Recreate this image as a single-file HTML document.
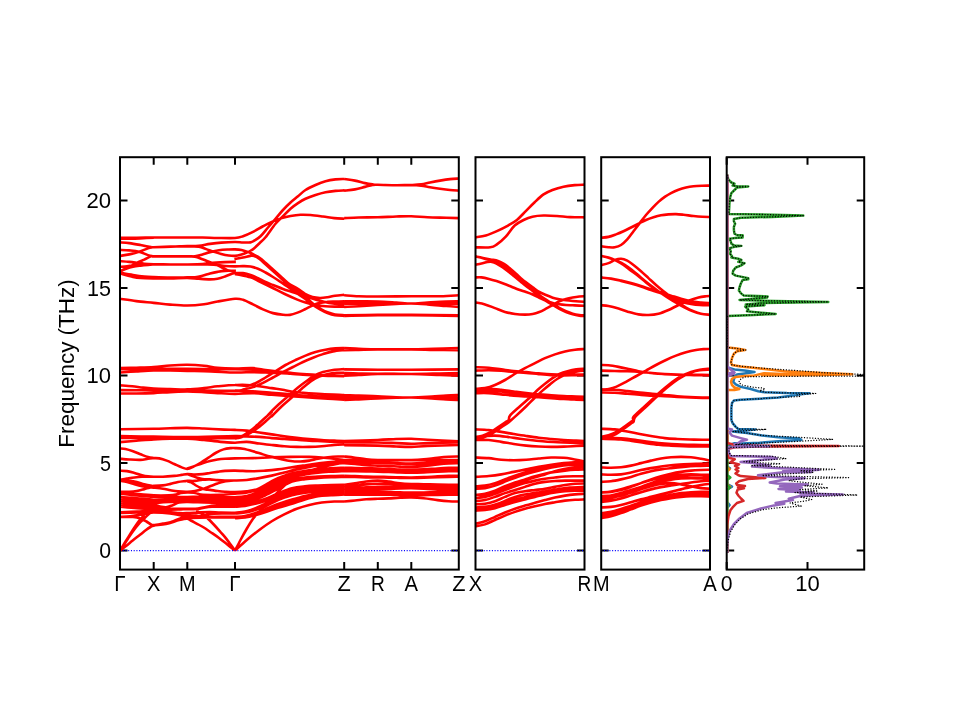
<!DOCTYPE html>
<html lang="en"><head><meta charset="utf-8"><title>Phonon band structure and DOS</title>
<style>
html,body{margin:0;padding:0;background:#fff;}
body{width:960px;height:720px;overflow:hidden;font-family:"Liberation Sans",sans-serif;}
svg{display:block;}
text{font-family:"Liberation Sans",sans-serif;font-size:21.2px;fill:#000;}
.b{fill:none;stroke:#ff0000;stroke-width:2.60;stroke-linecap:butt;stroke-linejoin:round;}
.sp{fill:none;stroke:#000;stroke-width:2.00;stroke-linecap:square;}
.tk{fill:none;stroke:#000;stroke-width:2.00;}
.z{fill:none;stroke:#0000ff;stroke-width:1.2;stroke-dasharray:1.05 1.68;}
.d{fill:none;stroke-width:2.5;stroke-linejoin:round;stroke-linecap:butt;}
.tot{fill:none;stroke:#000;stroke-width:1.25;stroke-dasharray:1.15 1.6;stroke-linejoin:round;}
</style></head><body>
<svg width="960" height="720" viewBox="0 0 960 720">
<rect x="0" y="0" width="960" height="720" fill="#ffffff"/>
<defs>
<clipPath id="c1"><rect x="120.00" y="157.20" width="338.80" height="412.40"/></clipPath>
<clipPath id="c2"><rect x="475.50" y="157.20" width="109.00" height="412.40"/></clipPath>
<clipPath id="c3"><rect x="601.20" y="157.20" width="108.80" height="412.40"/></clipPath>
<clipPath id="c4"><rect x="726.70" y="157.20" width="137.50" height="412.40"/></clipPath>
</defs>
<path class="tk" d="M120.00 550.60h7.50M458.80 550.60h-7.50M120.00 463.10h7.50M458.80 463.10h-7.50M120.00 375.60h7.50M458.80 375.60h-7.50M120.00 288.10h7.50M458.80 288.10h-7.50M120.00 200.60h7.50M458.80 200.60h-7.50M153.70 569.60v-7.50M153.70 157.20v7.50M187.30 569.60v-7.50M187.30 157.20v7.50M235.00 569.60v-7.50M235.00 157.20v7.50M344.20 569.60v-7.50M344.20 157.20v7.50M377.80 569.60v-7.50M377.80 157.20v7.50M411.30 569.60v-7.50M411.30 157.20v7.50"/>
<path class="tk" d="M475.50 550.60h7.50M584.50 550.60h-7.50M475.50 463.10h7.50M584.50 463.10h-7.50M475.50 375.60h7.50M584.50 375.60h-7.50M475.50 288.10h7.50M584.50 288.10h-7.50M475.50 200.60h7.50M584.50 200.60h-7.50"/>
<path class="tk" d="M601.20 550.60h7.50M710.00 550.60h-7.50M601.20 463.10h7.50M710.00 463.10h-7.50M601.20 375.60h7.50M710.00 375.60h-7.50M601.20 288.10h7.50M710.00 288.10h-7.50M601.20 200.60h7.50M710.00 200.60h-7.50"/>
<path class="tk" d="M726.70 550.60h7.50M864.20 550.60h-7.50M726.70 463.10h7.50M864.20 463.10h-7.50M726.70 375.60h7.50M864.20 375.60h-7.50M726.70 288.10h7.50M864.20 288.10h-7.50M726.70 200.60h7.50M864.20 200.60h-7.50M726.70 569.60v-7.50M726.70 157.20v7.50M807.50 569.60v-7.50M807.50 157.20v7.50"/>
<g clip-path="url(#c1)">
<path class="b" d="M120.03 237.88C122.81 237.85 131.14 237.79 136.75 237.73C142.36 237.66 148.08 237.54 153.70 237.50C159.33 237.46 164.90 237.50 170.50 237.50C176.10 237.50 181.97 237.50 187.30 237.50C192.63 237.50 197.47 237.43 202.50 237.50C207.53 237.58 212.09 237.86 217.50 237.95C222.91 238.04 230.73 238.31 234.98 238.03C239.23 237.74 240.00 237.28 243.00 236.25C246.00 235.22 249.67 233.54 253.00 231.88C256.33 230.21 259.88 227.92 263.00 226.25C266.12 224.58 268.62 223.23 271.75 221.88C274.88 220.52 278.62 219.10 281.75 218.12C284.88 217.15 287.38 216.56 290.50 216.00C293.62 215.44 297.17 214.92 300.50 214.75C303.83 214.58 306.75 214.71 310.50 215.00C314.25 215.29 319.04 215.98 323.00 216.50C326.96 217.02 330.71 217.75 334.25 218.12C337.79 218.50 342.58 218.65 344.25 218.75M120.03 238.85C122.19 238.81 128.59 238.78 133.00 238.63C137.41 238.48 143.05 238.13 146.50 237.95C149.95 237.78 152.50 237.64 153.70 237.58M120.03 242.38C121.56 242.50 125.84 242.69 129.25 243.13C132.66 243.56 136.88 244.34 140.50 245.00C144.13 245.66 148.80 246.73 151.00 247.10C153.20 247.48 150.45 247.33 153.70 247.25C156.95 247.18 164.90 246.84 170.50 246.65C176.10 246.46 182.59 246.28 187.30 246.13C192.01 245.98 194.97 246.13 198.75 245.75C202.53 245.38 206.25 244.40 210.00 243.88C213.75 243.35 217.09 242.91 221.25 242.60C225.41 242.29 231.35 242.02 234.98 242.00C238.60 241.98 240.41 242.44 243.00 242.50C245.59 242.56 248.63 242.66 250.50 242.35C252.38 242.04 252.58 241.64 254.25 240.63C255.92 239.61 258.21 238.44 260.50 236.25C262.79 234.06 265.50 230.42 268.00 227.50C270.50 224.58 273.00 221.67 275.50 218.75C278.00 215.83 280.50 212.71 283.00 210.00C285.50 207.29 288.00 204.79 290.50 202.50C293.00 200.21 295.50 198.33 298.00 196.25C300.50 194.17 302.58 191.88 305.50 190.00C308.42 188.12 312.17 186.46 315.50 185.00C318.83 183.54 322.17 182.19 325.50 181.25C328.83 180.31 332.38 179.75 335.50 179.38C338.62 179.00 342.79 179.06 344.25 179.00M120.03 255.88C121.56 255.63 126.09 255.06 129.25 254.38C132.41 253.69 135.88 252.75 139.00 251.75C142.13 250.75 145.88 249.10 148.00 248.38C150.13 247.65 150.80 247.59 151.75 247.40C152.70 247.21 150.58 247.38 153.70 247.25C156.83 247.13 164.90 246.84 170.50 246.65C176.10 246.46 182.59 246.13 187.30 246.13C192.01 246.13 195.59 246.15 198.75 246.65C201.91 247.15 203.75 248.28 206.25 249.13C208.75 249.98 211.25 250.94 213.75 251.75C216.25 252.56 218.75 253.38 221.25 254.00C223.75 254.63 226.46 255.19 228.75 255.50C231.04 255.81 232.85 256.04 234.98 255.88C237.10 255.71 239.54 255.04 241.50 254.50C243.46 253.96 245.25 253.25 246.75 252.63C248.25 252.00 249.25 251.50 250.50 250.75C251.75 250.00 252.75 249.38 254.25 248.13C255.75 246.88 257.63 245.06 259.50 243.25C261.38 241.44 262.83 240.50 265.50 237.25C268.17 234.00 272.58 227.25 275.50 223.75C278.42 220.25 280.50 218.75 283.00 216.25C285.50 213.75 288.00 210.94 290.50 208.75C293.00 206.56 295.50 204.79 298.00 203.12C300.50 201.46 302.58 200.10 305.50 198.75C308.42 197.40 312.17 196.08 315.50 195.00C318.83 193.92 322.17 192.94 325.50 192.25C328.83 191.56 332.38 191.19 335.50 190.88C338.62 190.56 342.79 190.46 344.25 190.38M120.03 249.88C121.56 249.96 126.09 250.09 129.25 250.40C132.41 250.71 135.88 250.96 139.00 251.75C142.13 252.54 145.75 254.38 148.00 255.13C150.25 255.88 151.55 256.05 152.50 256.25C153.45 256.45 150.70 256.30 153.70 256.33C156.70 256.35 164.90 256.39 170.50 256.40C176.10 256.41 183.22 256.43 187.30 256.40C191.38 256.38 192.47 256.59 195.00 256.25C197.53 255.91 200.00 255.06 202.50 254.38C205.00 253.69 207.25 252.81 210.00 252.13C212.75 251.44 215.88 250.69 219.00 250.25C222.13 249.81 226.09 249.65 228.75 249.50C231.41 249.35 232.85 249.27 234.98 249.35C237.10 249.43 239.54 249.62 241.50 250.00C243.46 250.38 245.25 251.15 246.75 251.65C248.25 252.15 249.25 252.46 250.50 253.00C251.75 253.54 252.75 254.06 254.25 254.88C255.75 255.69 257.63 256.56 259.50 257.88C261.38 259.19 263.25 260.81 265.50 262.75C267.75 264.69 270.50 267.25 273.00 269.50C275.50 271.75 278.00 274.00 280.50 276.25C283.00 278.50 285.17 280.94 288.00 283.00C290.83 285.06 294.67 286.81 297.50 288.63C300.33 290.44 302.50 292.46 305.00 293.88C307.50 295.29 310.00 296.41 312.50 297.10C315.00 297.79 317.50 297.98 320.00 298.00C322.50 298.03 325.00 297.63 327.50 297.25C330.00 296.88 332.21 296.15 335.00 295.75C337.79 295.35 342.69 295.00 344.23 294.85M120.03 271.25C121.31 270.63 124.96 268.88 127.75 267.50C130.54 266.13 134.00 264.31 136.75 263.00C139.50 261.69 141.88 260.73 144.25 259.63C146.63 258.53 149.43 256.96 151.00 256.40C152.58 255.84 150.45 256.25 153.70 256.25C156.95 256.25 164.90 256.38 170.50 256.40C176.10 256.43 183.22 256.36 187.30 256.40C191.38 256.44 192.47 256.15 195.00 256.63C197.53 257.10 200.00 258.31 202.50 259.25C205.00 260.19 207.50 261.25 210.00 262.25C212.50 263.25 215.00 264.13 217.50 265.25C220.00 266.38 223.13 268.13 225.00 269.00C226.88 269.88 226.94 270.15 228.75 270.50C230.56 270.85 234.69 271.00 235.88 271.10M120.03 261.13C121.56 261.25 126.46 261.60 129.25 261.88C132.04 262.15 134.25 262.46 136.75 262.78C139.25 263.09 141.43 263.51 144.25 263.75C147.08 263.99 149.33 264.08 153.70 264.20C158.08 264.33 164.90 264.45 170.50 264.50C176.10 264.55 181.97 264.50 187.30 264.50C192.63 264.50 198.09 264.48 202.50 264.50C206.91 264.53 210.00 264.40 213.75 264.65C217.50 264.90 221.46 265.71 225.00 266.00C228.54 266.29 231.98 266.35 234.98 266.38C237.98 266.40 240.41 266.10 243.00 266.13C245.59 266.15 248.00 266.06 250.50 266.50C253.00 266.94 255.50 267.75 258.00 268.75C260.50 269.75 263.00 271.13 265.50 272.50C268.00 273.88 270.50 275.44 273.00 277.00C275.50 278.56 278.25 280.38 280.50 281.88C282.75 283.38 284.42 284.63 286.50 286.00C288.58 287.38 290.92 288.69 293.00 290.13C295.08 291.56 297.00 293.19 299.00 294.63C301.00 296.06 302.75 297.09 305.00 298.75C307.25 300.41 310.00 302.85 312.50 304.60C315.00 306.35 317.50 307.85 320.00 309.25C322.50 310.65 325.00 312.00 327.50 313.00C330.00 314.00 332.21 314.78 335.00 315.25C337.79 315.73 342.69 315.75 344.23 315.85M120.03 266.75C121.19 266.69 124.84 266.63 127.00 266.38C129.16 266.13 130.75 265.54 133.00 265.25C135.25 264.96 137.05 264.81 140.50 264.65C143.95 264.49 148.70 264.30 153.70 264.28C158.70 264.25 164.90 264.46 170.50 264.50C176.10 264.54 181.97 264.56 187.30 264.50C192.63 264.44 198.72 264.38 202.50 264.13C206.28 263.88 206.25 263.34 210.00 263.00C213.75 262.66 220.69 262.29 225.00 262.10C229.31 261.91 234.06 261.91 235.88 261.88M120.03 271.25C120.94 270.88 123.34 269.75 125.50 269.00C127.66 268.25 130.50 267.31 133.00 266.75C135.50 266.19 138.00 265.94 140.50 265.63C143.00 265.31 145.80 265.06 148.00 264.88C150.20 264.69 152.75 264.56 153.70 264.50M120.03 272.75C122.19 273.13 128.96 274.38 133.00 275.00C137.04 275.63 140.80 276.15 144.25 276.50C147.70 276.85 149.33 276.91 153.70 277.10C158.08 277.29 164.90 277.58 170.50 277.63C176.10 277.68 183.22 277.46 187.30 277.40C191.38 277.34 192.47 277.53 195.00 277.25C197.53 276.98 200.00 276.38 202.50 275.75C205.00 275.13 207.50 274.15 210.00 273.50C212.50 272.85 215.00 272.29 217.50 271.85C220.00 271.41 221.94 271.04 225.00 270.88C228.06 270.71 234.06 270.88 235.88 270.88M120.03 273.50C122.19 274.06 129.59 276.13 133.00 276.88C136.41 277.63 137.05 277.75 140.50 278.00C143.95 278.25 148.70 278.31 153.70 278.38C158.70 278.44 164.90 278.46 170.50 278.38C176.10 278.29 182.59 277.79 187.30 277.85C192.01 277.91 194.97 278.50 198.75 278.75C202.53 279.00 206.88 279.35 210.00 279.35C213.13 279.35 215.00 279.23 217.50 278.75C220.00 278.28 222.50 277.38 225.00 276.50C227.50 275.63 230.69 274.13 232.50 273.50C234.31 272.88 235.31 272.88 235.88 272.75M234.38 259.00C235.81 258.75 240.31 258.03 243.00 257.50C245.69 256.98 248.63 256.10 250.50 255.85C252.38 255.60 252.75 255.48 254.25 256.00C255.75 256.53 257.63 257.63 259.50 259.00C261.38 260.38 263.25 262.25 265.50 264.25C267.75 266.25 270.50 268.75 273.00 271.00C275.50 273.25 278.00 275.50 280.50 277.75C283.00 280.00 285.17 282.38 288.00 284.50C290.83 286.63 294.67 288.50 297.50 290.50C300.33 292.50 302.50 294.38 305.00 296.50C307.50 298.63 310.00 301.25 312.50 303.25C315.00 305.25 317.50 307.00 320.00 308.50C322.50 310.00 325.00 311.25 327.50 312.25C330.00 313.25 332.21 314.00 335.00 314.50C337.79 315.00 342.69 315.13 344.23 315.25M234.98 273.10C236.31 273.10 240.41 272.80 243.00 273.10C245.59 273.40 248.00 274.04 250.50 274.90C253.00 275.76 255.50 277.09 258.00 278.28C260.50 279.46 263.00 280.90 265.50 282.03C268.00 283.15 270.08 283.84 273.00 285.00C275.92 286.16 279.67 287.79 283.00 289.00C286.33 290.21 289.67 291.15 293.00 292.25C296.33 293.35 299.67 294.54 303.00 295.62C306.33 296.71 309.67 297.77 313.00 298.75C316.33 299.73 319.67 300.71 323.00 301.50C326.33 302.29 329.46 303.08 333.00 303.50C336.54 303.92 342.38 303.92 344.25 304.00M234.98 274.15C235.69 274.25 236.66 274.21 239.25 274.75C241.84 275.29 247.38 276.38 250.50 277.38C253.63 278.38 254.46 279.06 258.00 280.75C261.54 282.44 267.38 285.33 271.75 287.50C276.12 289.67 280.08 291.77 284.25 293.75C288.42 295.73 293.21 297.92 296.75 299.38C300.29 300.83 302.38 301.56 305.50 302.50C308.62 303.44 312.17 304.38 315.50 305.00C318.83 305.62 322.17 305.98 325.50 306.25C328.83 306.52 332.38 306.56 335.50 306.62C338.62 306.69 342.79 306.62 344.25 306.62M119.99 298.80C122.71 299.18 130.70 300.42 136.31 301.10C141.92 301.78 148.00 302.27 153.64 302.86C159.29 303.45 164.57 304.17 170.16 304.62C175.76 305.07 181.58 305.64 187.23 305.57C192.87 305.50 198.96 304.89 204.02 304.21C209.07 303.54 212.39 302.41 217.56 301.51C222.73 300.60 230.78 299.09 235.03 298.80C239.27 298.51 240.00 298.82 243.00 299.75C246.00 300.68 249.67 302.77 253.00 304.38C256.33 305.98 259.67 307.92 263.00 309.38C266.33 310.83 269.67 312.23 273.00 313.12C276.33 314.02 280.17 314.46 283.00 314.75C285.83 315.04 287.58 315.23 290.00 314.88C292.42 314.52 295.00 313.56 297.50 312.63C300.00 311.69 302.50 310.44 305.00 309.25C307.50 308.06 310.00 306.56 312.50 305.50C315.00 304.44 317.50 303.48 320.00 302.88C322.50 302.28 325.00 302.11 327.50 301.90C330.00 301.69 332.21 301.69 335.00 301.60C337.79 301.51 342.69 301.41 344.23 301.38M344.25 179.00C346.04 179.27 351.54 179.94 355.00 180.62C358.46 181.31 362.08 182.50 365.00 183.12C367.92 183.75 370.38 184.10 372.50 184.38C374.62 184.65 373.79 184.60 377.75 184.75C381.71 184.90 390.67 185.21 396.25 185.25C401.83 185.29 407.08 185.15 411.25 185.00C415.42 184.85 418.12 184.79 421.25 184.38C424.38 183.96 426.88 183.12 430.00 182.50C433.12 181.88 436.67 181.19 440.00 180.62C443.33 180.06 446.88 179.48 450.00 179.12C453.12 178.77 457.29 178.60 458.75 178.50M344.25 190.62C346.04 190.42 351.54 190.00 355.00 189.38C358.46 188.75 362.08 187.60 365.00 186.88C367.92 186.15 370.38 185.35 372.50 185.00C374.62 184.65 373.79 184.71 377.75 184.75C381.71 184.79 390.67 185.21 396.25 185.25C401.83 185.29 407.08 184.94 411.25 185.00C415.42 185.06 418.12 185.25 421.25 185.62C424.38 186.00 426.88 186.73 430.00 187.25C433.12 187.77 436.67 188.29 440.00 188.75C443.33 189.21 446.88 189.69 450.00 190.00C453.12 190.31 457.29 190.52 458.75 190.62M344.25 218.12C346.67 218.02 353.17 217.65 358.75 217.50C364.33 217.35 371.50 217.42 377.75 217.25C384.00 217.08 390.67 216.67 396.25 216.50C401.83 216.33 406.04 216.12 411.25 216.25C416.46 216.38 421.67 217.00 427.50 217.25C433.33 217.50 441.04 217.60 446.25 217.75C451.46 217.90 456.67 218.06 458.75 218.12M344.25 295.25C346.67 295.42 353.17 296.04 358.75 296.25C364.33 296.46 369.00 296.50 377.75 296.50C386.50 296.50 400.88 296.29 411.25 296.25C421.62 296.21 432.08 296.42 440.00 296.25C447.92 296.08 455.62 295.42 458.75 295.25M344.25 301.25C346.67 301.27 353.17 301.33 358.75 301.38C364.33 301.42 371.50 301.31 377.75 301.50C384.00 301.69 390.67 302.17 396.25 302.50C401.83 302.83 406.04 303.50 411.25 303.50C416.46 303.50 421.67 302.83 427.50 302.50C433.33 302.17 441.04 301.71 446.25 301.50C451.46 301.29 456.67 301.29 458.75 301.25M344.25 303.75C349.83 303.71 366.58 303.54 377.75 303.50C388.92 303.46 397.75 303.46 411.25 303.50C424.75 303.54 450.83 303.71 458.75 303.75M344.25 306.88C346.67 306.77 353.17 306.56 358.75 306.25C364.33 305.94 371.50 305.38 377.75 305.00C384.00 304.62 390.67 304.25 396.25 304.00C401.83 303.75 406.04 303.44 411.25 303.50C416.46 303.56 421.67 303.96 427.50 304.38C433.33 304.79 441.04 305.58 446.25 306.00C451.46 306.42 456.67 306.73 458.75 306.88M344.25 315.38C349.83 315.29 366.58 314.96 377.75 314.88C388.92 314.79 397.75 314.79 411.25 314.88C424.75 314.96 450.83 315.29 458.75 315.38M344.25 316.00C349.83 315.88 366.58 315.38 377.75 315.25C388.92 315.12 397.75 315.12 411.25 315.25C424.75 315.38 450.83 315.88 458.75 316.00M119.99 368.17C122.71 368.10 130.70 367.94 136.31 367.76C141.92 367.58 148.00 367.47 153.64 367.08C159.29 366.70 164.57 365.84 170.16 365.46C175.76 365.07 181.58 364.73 187.23 364.78C192.87 364.83 198.96 365.23 204.02 365.73C209.07 366.22 212.39 367.31 217.56 367.76C222.73 368.21 229.12 368.38 235.03 368.44C240.93 368.50 247.92 367.86 253.00 368.12C258.08 368.39 261.33 369.44 265.50 370.00C269.67 370.56 273.83 371.02 278.00 371.50C282.17 371.98 286.33 372.44 290.50 372.88C294.67 373.31 298.83 373.81 303.00 374.12C307.17 374.44 311.33 374.56 315.50 374.75C319.67 374.94 323.21 375.08 328.00 375.25C332.79 375.42 341.54 375.67 344.25 375.75M119.99 369.11C125.60 369.07 142.44 368.89 153.64 368.84C164.85 368.80 177.70 368.80 187.23 368.84C196.75 368.89 202.82 369.07 210.79 369.11C218.75 369.16 227.99 369.01 235.03 369.11C242.06 369.22 247.92 369.44 253.00 369.75C258.08 370.06 261.33 370.58 265.50 371.00C269.67 371.42 273.83 371.83 278.00 372.25C282.17 372.67 286.33 373.10 290.50 373.50C294.67 373.90 298.83 374.33 303.00 374.62C307.17 374.92 311.33 375.06 315.50 375.25C319.67 375.44 323.21 375.62 328.00 375.75C332.79 375.88 341.54 375.96 344.25 376.00M119.99 372.50C122.71 372.32 130.70 371.75 136.31 371.42C141.92 371.08 148.00 370.63 153.64 370.47C159.29 370.31 164.57 370.40 170.16 370.47C175.76 370.53 180.45 370.72 187.23 370.87C194.00 371.03 202.82 371.14 210.79 371.42C218.75 371.69 227.99 372.38 235.03 372.50C242.06 372.62 247.92 372.12 253.00 372.12C258.08 372.13 261.33 372.38 265.50 372.50C269.67 372.62 273.83 372.67 278.00 372.88C282.17 373.08 286.33 373.44 290.50 373.75C294.67 374.06 298.83 374.48 303.00 374.75C307.17 375.02 311.33 375.19 315.50 375.38C319.67 375.56 323.21 375.73 328.00 375.88C332.79 376.02 341.54 376.19 344.25 376.25M119.99 385.36C122.04 385.52 128.40 385.93 132.25 386.31C136.10 386.69 139.52 387.30 143.08 387.66C146.65 388.03 149.13 388.25 153.64 388.48C158.16 388.70 164.57 388.86 170.16 389.02C175.76 389.18 181.58 389.58 187.23 389.42C192.87 389.27 198.96 388.59 204.02 388.07C209.07 387.55 212.39 386.83 217.56 386.31C222.73 385.79 230.16 385.01 235.03 384.96C239.89 384.90 243.34 386.31 246.75 386.00C250.16 385.69 252.38 384.54 255.50 383.12C258.62 381.71 262.17 379.48 265.50 377.50C268.83 375.52 272.17 373.33 275.50 371.25C278.83 369.17 282.17 366.88 285.50 365.00C288.83 363.12 292.17 361.56 295.50 360.00C298.83 358.44 302.17 356.94 305.50 355.62C308.83 354.31 312.17 353.10 315.50 352.12C318.83 351.15 322.17 350.38 325.50 349.75C328.83 349.12 332.38 348.65 335.50 348.38C338.62 348.10 342.79 348.17 344.25 348.12M119.99 390.10C125.60 390.15 142.44 390.33 153.64 390.37C164.85 390.42 173.66 390.30 187.23 390.37C200.79 390.44 225.52 390.97 235.03 390.78C244.53 390.59 241.25 389.86 244.25 389.25C247.25 388.64 249.88 388.19 253.00 387.12C256.12 386.06 259.67 384.48 263.00 382.88C266.33 381.27 269.67 379.31 273.00 377.50C276.33 375.69 279.67 373.75 283.00 372.00C286.33 370.25 289.67 368.67 293.00 367.00C296.33 365.33 299.67 363.54 303.00 362.00C306.33 360.46 309.67 359.06 313.00 357.75C316.33 356.44 319.67 355.19 323.00 354.12C326.33 353.06 329.46 352.06 333.00 351.38C336.54 350.69 342.38 350.23 344.25 350.00M119.99 393.49C122.71 393.49 130.70 393.55 136.31 393.49C141.92 393.42 148.00 393.31 153.64 393.08C159.29 392.85 164.57 392.40 170.16 392.13C175.76 391.86 181.58 391.46 187.23 391.46C192.87 391.46 198.96 391.86 204.02 392.13C209.07 392.40 212.39 392.79 217.56 393.08C222.73 393.37 229.12 393.89 235.03 393.89C240.93 393.90 246.88 392.98 253.00 393.12C259.12 393.27 265.50 394.23 271.75 394.75C278.00 395.27 284.25 395.79 290.50 396.25C296.75 396.71 303.00 397.08 309.25 397.50C315.50 397.92 322.17 398.38 328.00 398.75C333.83 399.12 341.54 399.58 344.25 399.75M235.00 385.00C236.96 385.00 242.71 384.79 246.75 385.00C250.79 385.21 255.08 385.73 259.25 386.25C263.42 386.77 267.58 387.50 271.75 388.12C275.92 388.75 280.71 389.38 284.25 390.00C287.79 390.62 289.88 391.42 293.00 391.88C296.12 392.33 298.21 392.40 303.00 392.75C307.79 393.10 314.88 393.62 321.75 394.00C328.62 394.38 340.50 394.83 344.25 395.00M235.00 390.62C238.00 390.73 246.88 390.90 253.00 391.25C259.12 391.60 265.50 392.23 271.75 392.75C278.00 393.27 284.25 393.85 290.50 394.38C296.75 394.90 303.00 395.46 309.25 395.88C315.50 396.29 322.17 396.60 328.00 396.88C333.83 397.15 341.54 397.40 344.25 397.50M235.00 438.75C236.33 438.23 240.42 436.98 243.00 435.62C245.58 434.27 248.00 432.50 250.50 430.62C253.00 428.75 255.50 426.56 258.00 424.38C260.50 422.19 263.21 419.58 265.50 417.50C267.79 415.42 271.33 412.29 271.75 411.88C272.17 411.46 266.96 416.15 268.00 415.00C269.04 413.85 274.67 408.12 278.00 405.00C281.33 401.88 284.67 399.17 288.00 396.25C291.33 393.33 294.67 390.21 298.00 387.50C301.33 384.79 305.08 382.08 308.00 380.00C310.92 377.92 313.00 376.31 315.50 375.00C318.00 373.69 320.08 372.96 323.00 372.12C325.92 371.29 329.46 370.50 333.00 370.00C336.54 369.50 342.38 369.27 344.25 369.12M235.00 438.25C235.92 438.12 237.92 438.42 240.50 437.50C243.08 436.58 247.58 434.38 250.50 432.75C253.42 431.12 255.50 429.62 258.00 427.75C260.50 425.88 263.00 423.69 265.50 421.50C268.00 419.31 271.96 415.50 273.00 414.62C274.04 413.75 270.29 417.65 271.75 416.25C273.21 414.85 278.42 409.38 281.75 406.25C285.08 403.12 288.42 400.42 291.75 397.50C295.08 394.58 298.42 391.56 301.75 388.75C305.08 385.94 308.83 382.67 311.75 380.62C314.67 378.58 316.54 377.60 319.25 376.50C321.96 375.40 325.08 374.60 328.00 374.00C330.92 373.40 334.04 373.08 336.75 372.88C339.46 372.67 343.00 372.77 344.25 372.75M344.25 348.12C346.67 348.23 353.17 348.54 358.75 348.75C364.33 348.96 369.00 349.27 377.75 349.38C386.50 349.48 401.92 349.48 411.25 349.38C420.58 349.27 425.83 348.96 433.75 348.75C441.67 348.54 454.58 348.23 458.75 348.12M344.25 350.25C346.67 350.19 353.17 350.02 358.75 349.88C364.33 349.73 369.00 349.46 377.75 349.38C386.50 349.29 401.92 349.29 411.25 349.38C420.58 349.46 425.83 349.73 433.75 349.88C441.67 350.02 454.58 350.19 458.75 350.25M344.25 369.38C349.83 369.44 366.58 369.69 377.75 369.75C388.92 369.81 397.75 369.81 411.25 369.75C424.75 369.69 450.83 369.44 458.75 369.38M344.25 373.12C346.67 373.19 353.17 373.40 358.75 373.50C364.33 373.60 369.00 373.67 377.75 373.75C386.50 373.83 400.88 374.04 411.25 374.00C421.62 373.96 432.08 373.65 440.00 373.50C447.92 373.35 455.62 373.19 458.75 373.12M344.25 375.62C346.67 375.52 353.17 375.27 358.75 375.00C364.33 374.73 369.00 374.17 377.75 374.00C386.50 373.83 400.88 373.83 411.25 374.00C421.62 374.17 432.08 374.73 440.00 375.00C447.92 375.27 455.62 375.52 458.75 375.62M344.25 395.00C346.67 395.10 353.17 395.42 358.75 395.62C364.33 395.83 371.50 395.98 377.75 396.25C384.00 396.52 390.67 397.04 396.25 397.25C401.83 397.46 406.04 397.56 411.25 397.50C416.46 397.44 421.67 397.19 427.50 396.88C433.33 396.56 441.04 395.94 446.25 395.62C451.46 395.31 456.67 395.10 458.75 395.00M344.25 397.50C349.83 397.50 366.58 397.50 377.75 397.50C388.92 397.50 397.75 397.50 411.25 397.50C424.75 397.50 450.83 397.50 458.75 397.50M344.25 400.00C346.67 399.90 353.17 399.62 358.75 399.38C364.33 399.12 371.50 398.77 377.75 398.50C384.00 398.23 390.67 397.92 396.25 397.75C401.83 397.58 406.04 397.44 411.25 397.50C416.46 397.56 421.67 397.81 427.50 398.12C433.33 398.44 441.04 399.06 446.25 399.38C451.46 399.69 456.67 399.90 458.75 400.00M119.99 429.22C125.60 429.15 145.28 428.97 153.64 428.81C162.01 428.65 164.57 428.43 170.16 428.27C175.76 428.11 181.58 427.82 187.23 427.86C192.87 427.91 197.83 428.25 204.02 428.54C210.20 428.83 219.16 429.40 224.33 429.62C229.50 429.85 231.29 429.73 235.03 429.90C238.76 430.06 242.71 430.19 246.75 430.62C250.79 431.06 255.08 431.88 259.25 432.50C263.42 433.12 267.58 433.75 271.75 434.38C275.92 435.00 280.08 435.69 284.25 436.25C288.42 436.81 292.58 437.29 296.75 437.75C300.92 438.21 305.08 438.62 309.25 439.00C313.42 439.38 317.58 439.73 321.75 440.00C325.92 440.27 330.50 440.46 334.25 440.62C338.00 440.79 342.58 440.94 344.25 441.00M119.99 435.99C125.60 436.10 142.44 436.48 153.64 436.67C164.85 436.85 173.66 437.18 187.23 437.07C200.79 436.96 225.10 436.08 235.03 435.99C244.95 435.89 242.71 436.35 246.75 436.50C250.79 436.65 255.08 436.60 259.25 436.88C263.42 437.15 267.58 437.77 271.75 438.12C275.92 438.48 280.08 438.73 284.25 439.00C288.42 439.27 292.58 439.48 296.75 439.75C300.92 440.02 305.08 440.38 309.25 440.62C313.42 440.88 317.58 441.04 321.75 441.25C325.92 441.46 330.50 441.71 334.25 441.88C338.00 442.04 342.58 442.19 344.25 442.25M119.99 438.02C125.60 438.02 142.44 438.02 153.64 438.02C164.85 438.02 173.66 437.97 187.23 438.02C200.79 438.06 227.06 438.25 235.03 438.29M119.99 442.08C122.71 441.86 130.70 441.18 136.31 440.73C141.92 440.28 148.00 439.71 153.64 439.37C159.29 439.04 164.57 438.81 170.16 438.70C175.76 438.58 181.58 438.47 187.23 438.70C192.87 438.92 197.83 439.49 204.02 440.05C210.20 440.61 219.16 441.63 224.33 442.08C229.50 442.53 231.29 442.79 235.03 442.76C238.76 442.72 242.71 441.75 246.75 441.88C250.79 442.00 255.08 442.98 259.25 443.50C263.42 444.02 267.58 444.54 271.75 445.00C275.92 445.46 280.08 445.94 284.25 446.25C288.42 446.56 292.58 446.77 296.75 446.88C300.92 446.98 305.08 446.98 309.25 446.88C313.42 446.77 317.58 446.56 321.75 446.25C325.92 445.94 330.50 445.31 334.25 445.00C338.00 444.69 342.58 444.48 344.25 444.38M344.25 441.00C349.83 440.83 369.08 440.33 377.75 440.00C386.42 439.67 390.67 439.21 396.25 439.00C401.83 438.79 406.04 438.62 411.25 438.75C416.46 438.88 419.58 439.33 427.50 439.75C435.42 440.17 453.54 441.00 458.75 441.25M344.25 442.50C349.83 442.50 369.08 442.40 377.75 442.50C386.42 442.60 390.67 442.92 396.25 443.12C401.83 443.33 406.04 443.75 411.25 443.75C416.46 443.75 419.58 443.33 427.50 443.12C435.42 442.92 453.54 442.60 458.75 442.50M344.25 445.25C349.83 445.31 369.08 445.42 377.75 445.62C386.42 445.83 390.67 446.29 396.25 446.50C401.83 446.71 406.04 446.96 411.25 446.88C416.46 446.79 419.58 446.31 427.50 446.00C435.42 445.69 453.54 445.17 458.75 445.00M120.03 448.40C120.94 448.50 123.34 448.53 125.50 449.00C127.66 449.48 130.50 450.38 133.00 451.25C135.50 452.13 138.00 453.28 140.50 454.25C143.00 455.23 145.80 456.48 148.00 457.10C150.20 457.73 151.83 457.79 153.70 458.00C155.58 458.21 157.08 457.94 159.25 458.38C161.43 458.81 164.25 459.69 166.75 460.63C169.25 461.56 171.75 462.88 174.25 464.00C176.75 465.13 179.58 466.56 181.75 467.38C183.93 468.19 185.34 469.00 187.30 468.88C189.26 468.75 191.22 467.69 193.50 466.63C195.78 465.56 198.50 464.00 201.00 462.50C203.50 461.00 206.00 459.25 208.50 457.63C211.00 456.00 213.50 454.13 216.00 452.75C218.50 451.38 221.00 450.15 223.50 449.38C226.00 448.60 229.09 448.31 231.00 448.10C232.91 447.89 232.98 447.99 234.98 448.10C236.98 448.21 240.00 448.23 243.00 448.75C246.00 449.27 249.67 450.31 253.00 451.25C256.33 452.19 259.88 453.44 263.00 454.38C266.12 455.31 268.83 456.10 271.75 456.88C274.67 457.65 277.38 458.31 280.50 459.00C283.62 459.69 287.17 460.58 290.50 461.00C293.83 461.42 297.38 461.56 300.50 461.50C303.62 461.44 306.33 461.08 309.25 460.62C312.17 460.17 314.88 459.31 318.00 458.75C321.12 458.19 324.67 457.62 328.00 457.25C331.33 456.88 335.29 456.62 338.00 456.50C340.71 456.38 343.21 456.50 344.25 456.50M120.03 458.75C121.56 458.88 125.84 459.31 129.25 459.50C132.66 459.69 137.38 460.00 140.50 459.88C143.63 459.75 145.80 459.04 148.00 458.75C150.20 458.46 152.75 458.25 153.70 458.15M187.28 468.50C188.56 468.06 192.46 466.75 195.00 465.88C197.54 465.00 200.00 464.06 202.50 463.25C205.00 462.44 207.50 461.63 210.00 461.00C212.50 460.38 215.00 459.88 217.50 459.50C220.00 459.13 222.09 458.94 225.00 458.75C227.91 458.56 230.31 458.48 234.98 458.38C239.64 458.27 246.87 458.31 253.00 458.12C259.13 457.94 265.50 457.46 271.75 457.25C278.00 457.04 284.25 456.94 290.50 456.88C296.75 456.81 304.04 456.77 309.25 456.88C314.46 456.98 317.58 457.19 321.75 457.50C325.92 457.81 330.50 458.33 334.25 458.75C338.00 459.17 342.58 459.79 344.25 460.00M120.03 470.75C121.19 470.81 124.59 470.75 127.00 471.13C129.41 471.50 132.00 472.31 134.50 473.00C137.00 473.69 139.75 474.69 142.00 475.25C144.25 475.81 146.05 476.13 148.00 476.38C149.95 476.63 151.20 476.69 153.70 476.75C156.20 476.81 159.58 476.90 163.00 476.75C166.43 476.60 171.13 476.16 174.25 475.85C177.38 475.54 179.58 475.16 181.75 474.88C183.93 474.59 185.09 474.19 187.30 474.13C189.51 474.06 192.47 474.50 195.00 474.50C197.53 474.50 200.00 474.38 202.50 474.13C205.00 473.88 207.50 473.38 210.00 473.00C212.50 472.63 215.00 472.23 217.50 471.88C220.00 471.53 222.09 471.11 225.00 470.90C227.91 470.69 230.31 470.54 234.98 470.60C239.64 470.66 247.91 471.25 253.00 471.25C258.09 471.25 261.33 470.94 265.50 470.62C269.67 470.31 273.83 469.90 278.00 469.38C282.17 468.85 286.33 468.12 290.50 467.50C294.67 466.88 298.83 466.25 303.00 465.62C307.17 465.00 311.33 464.31 315.50 463.75C319.67 463.19 324.25 462.67 328.00 462.25C331.75 461.83 335.29 461.46 338.00 461.25C340.71 461.04 343.21 461.04 344.25 461.00M120.03 479.75C121.19 479.56 124.59 479.00 127.00 478.63C129.41 478.25 132.00 477.81 134.50 477.50C137.00 477.19 139.75 476.91 142.00 476.75C144.25 476.59 146.05 476.53 148.00 476.53C149.95 476.53 152.75 476.71 153.70 476.75M187.28 474.13C187.94 474.38 189.71 475.06 191.25 475.63C192.79 476.19 194.63 476.94 196.50 477.50C198.38 478.06 200.25 478.69 202.50 479.00C204.75 479.31 207.50 479.19 210.00 479.38C212.50 479.56 215.00 479.94 217.50 480.13C220.00 480.31 222.09 480.44 225.00 480.50C227.91 480.56 231.35 480.58 234.98 480.50C238.60 480.42 242.70 480.40 246.75 480.00C250.80 479.60 255.08 478.85 259.25 478.12C263.42 477.40 267.58 476.56 271.75 475.62C275.92 474.69 280.08 473.54 284.25 472.50C288.42 471.46 292.58 470.31 296.75 469.38C300.92 468.44 305.08 467.60 309.25 466.88C313.42 466.15 317.58 465.52 321.75 465.00C325.92 464.48 330.50 464.06 334.25 463.75C338.00 463.44 342.58 463.23 344.25 463.12M120.03 480.50C121.56 480.56 126.46 480.63 129.25 480.88C132.04 481.13 134.25 481.44 136.75 482.00C139.25 482.56 141.75 483.63 144.25 484.25C146.75 484.88 150.18 485.48 151.75 485.75C153.33 486.03 151.83 485.96 153.70 485.90C155.58 485.84 160.20 485.71 163.00 485.38C165.80 485.04 168.00 484.44 170.50 483.88C173.00 483.31 175.50 482.46 178.00 482.00C180.50 481.54 183.95 481.29 185.50 481.10C187.05 480.91 185.72 480.91 187.30 480.88C188.88 480.84 192.47 481.06 195.00 480.88C197.53 480.69 200.00 480.00 202.50 479.75C205.00 479.50 208.75 479.44 210.00 479.38M187.28 481.25C187.94 481.44 189.71 481.63 191.25 482.38C192.79 483.13 194.88 484.81 196.50 485.75C198.13 486.69 199.50 487.38 201.00 488.00C202.50 488.63 204.00 489.19 205.50 489.50C207.00 489.81 208.00 489.63 210.00 489.88C212.00 490.13 215.00 490.69 217.50 491.00C220.00 491.31 222.09 491.56 225.00 491.75C227.91 491.94 231.35 492.21 234.98 492.13C238.60 492.04 243.12 491.71 246.75 491.25C250.38 490.79 253.62 490.42 256.75 489.38C259.88 488.33 262.58 486.56 265.50 485.00C268.42 483.44 271.33 481.46 274.25 480.00C277.17 478.54 279.88 477.40 283.00 476.25C286.12 475.10 289.67 473.96 293.00 473.12C296.33 472.29 299.25 471.83 303.00 471.25C306.75 470.67 311.33 470.08 315.50 469.62C319.67 469.17 323.21 468.81 328.00 468.50C332.79 468.19 341.54 467.88 344.25 467.75M120.03 480.88C121.19 481.06 124.59 481.44 127.00 482.00C129.41 482.56 132.00 483.56 134.50 484.25C137.00 484.94 139.50 485.63 142.00 486.13C144.50 486.63 147.55 487.00 149.50 487.25C151.45 487.50 151.45 487.38 153.70 487.63C155.95 487.88 160.20 488.31 163.00 488.75C165.80 489.19 168.00 489.81 170.50 490.25C173.00 490.69 175.20 491.13 178.00 491.38C180.80 491.63 184.47 491.81 187.30 491.75C190.13 491.69 192.72 491.38 195.00 491.00C197.28 490.63 199.25 490.00 201.00 489.50C202.75 489.00 203.75 488.63 205.50 488.00C207.25 487.38 209.50 486.50 211.50 485.75C213.50 485.00 215.50 484.19 217.50 483.50C219.50 482.81 221.63 482.06 223.50 481.63C225.38 481.19 226.84 481.06 228.75 480.88C230.66 480.69 233.94 480.56 234.98 480.50M120.03 480.50C121.56 480.69 126.46 481.19 129.25 481.63C132.04 482.06 134.25 482.56 136.75 483.13C139.25 483.69 142.13 484.38 144.25 485.00C146.38 485.63 147.93 486.40 149.50 486.88C151.08 487.35 153.00 487.69 153.70 487.85M120.03 491.75C121.56 491.75 126.46 491.88 129.25 491.75C132.04 491.63 134.25 491.44 136.75 491.00C139.25 490.56 142.13 489.69 144.25 489.13C146.38 488.56 147.93 488.00 149.50 487.63C151.08 487.25 153.00 487.00 153.70 486.88M120.00 492.20C122.83 492.50 131.38 493.48 137.00 494.00C142.62 494.52 148.37 495.08 153.70 495.30C159.03 495.52 165.28 495.42 169.00 495.30C172.72 495.18 174.00 494.98 176.00 494.60C178.00 494.22 179.12 493.35 181.00 493.00C182.88 492.65 185.13 492.53 187.30 492.50C189.47 492.47 192.22 492.58 194.00 492.80C195.78 493.02 196.50 493.47 198.00 493.80C199.50 494.13 199.17 494.63 203.00 494.80C206.83 494.97 216.83 494.90 221.00 494.80C225.17 494.70 225.67 494.40 228.00 494.20C230.33 494.00 233.83 493.70 235.00 493.60M120.00 493.70C122.83 494.00 131.38 494.98 137.00 495.50C142.62 496.02 148.37 496.55 153.70 496.80C159.03 497.05 164.78 496.97 169.00 497.00C173.22 497.03 175.95 497.00 179.00 497.00C182.05 497.00 184.80 497.03 187.30 497.00C189.80 496.97 191.88 496.88 194.00 496.80C196.12 496.72 195.50 496.50 200.00 496.50C204.50 496.50 215.17 496.67 221.00 496.80C226.83 496.93 232.67 497.22 235.00 497.30M120.00 497.00C122.83 497.22 131.38 497.85 137.00 498.30C142.62 498.75 148.37 499.50 153.70 499.70C159.03 499.90 163.40 499.65 169.00 499.50C174.60 499.35 182.13 498.92 187.30 498.80C192.47 498.68 194.38 498.77 200.00 498.80C205.62 498.83 215.17 498.97 221.00 499.00C226.83 499.03 232.67 499.00 235.00 499.00M120.00 499.00C122.83 499.23 131.38 499.93 137.00 500.40C142.62 500.87 148.37 501.65 153.70 501.80C159.03 501.95 164.78 501.47 169.00 501.30C173.22 501.13 175.95 500.93 179.00 500.80C182.05 500.67 183.80 500.55 187.30 500.50C190.80 500.45 194.38 500.47 200.00 500.50C205.62 500.53 215.17 500.67 221.00 500.70C226.83 500.73 232.67 500.70 235.00 500.70M120.00 501.00C122.83 501.22 131.38 501.88 137.00 502.30C142.62 502.72 150.03 503.45 153.70 503.50C157.37 503.55 156.45 502.85 159.00 502.60C161.55 502.35 165.67 502.13 169.00 502.00C172.33 501.87 175.95 501.85 179.00 501.80C182.05 501.75 183.80 501.68 187.30 501.70C190.80 501.72 194.38 501.82 200.00 501.90C205.62 501.98 215.17 502.13 221.00 502.20C226.83 502.27 232.67 502.28 235.00 502.30M120.00 503.00C122.83 503.20 131.38 503.82 137.00 504.20C142.62 504.58 149.87 504.92 153.70 505.30C157.53 505.68 157.95 506.18 160.00 506.50C162.05 506.82 164.00 507.37 166.00 507.20C168.00 507.03 169.83 506.27 172.00 505.50C174.17 504.73 176.45 503.18 179.00 502.60C181.55 502.02 184.13 502.05 187.30 502.00C190.47 501.95 193.55 502.20 198.00 502.30C202.45 502.40 209.50 502.45 214.00 502.60C218.50 502.75 221.50 503.05 225.00 503.20C228.50 503.35 233.33 503.45 235.00 503.50M120.00 505.00C122.83 505.20 131.38 505.82 137.00 506.20C142.62 506.58 149.87 507.00 153.70 507.30C157.53 507.60 157.28 507.78 160.00 508.00C162.72 508.22 165.45 508.48 170.00 508.60C174.55 508.72 182.63 508.72 187.30 508.70C191.97 508.68 194.88 508.78 198.00 508.50C201.12 508.22 203.33 507.48 206.00 507.00C208.67 506.52 210.83 505.97 214.00 505.60C217.17 505.23 221.50 504.95 225.00 504.80C228.50 504.65 233.33 504.72 235.00 504.70M120.00 506.60C122.83 506.87 131.38 507.75 137.00 508.20C142.62 508.65 149.03 509.03 153.70 509.30C158.37 509.57 160.78 509.77 165.00 509.80C169.22 509.83 175.28 509.62 179.00 509.50C182.72 509.38 184.13 509.18 187.30 509.10C190.47 509.02 195.22 509.22 198.00 509.00C200.78 508.78 201.67 508.17 204.00 507.80C206.33 507.43 209.17 507.00 212.00 506.80C214.83 506.60 217.17 506.62 221.00 506.60C224.83 506.58 232.67 506.68 235.00 506.70M120.00 512.30C122.83 512.18 131.38 511.82 137.00 511.60C142.62 511.38 149.03 510.97 153.70 511.00C158.37 511.03 160.78 511.45 165.00 511.80C169.22 512.15 175.28 512.88 179.00 513.10C182.72 513.32 183.80 513.23 187.30 513.10C190.80 512.97 196.22 512.48 200.00 512.30C203.78 512.12 206.50 511.95 210.00 512.00C213.50 512.05 216.83 512.48 221.00 512.60C225.17 512.72 232.67 512.68 235.00 512.70M120.00 513.00C122.83 512.92 131.38 512.63 137.00 512.50C142.62 512.37 149.03 512.15 153.70 512.20C158.37 512.25 160.78 512.42 165.00 512.80C169.22 513.18 175.28 514.17 179.00 514.50C182.72 514.83 184.47 514.58 187.30 514.75C190.13 514.92 193.88 515.26 196.00 515.50C198.12 515.74 198.33 516.28 200.00 516.20C201.67 516.12 203.67 515.43 206.00 515.00C208.33 514.57 210.83 513.87 214.00 513.60C217.17 513.33 221.50 513.42 225.00 513.40C228.50 513.38 233.33 513.48 235.00 513.50M120.00 516.90C121.67 516.82 126.67 516.75 130.00 516.40C133.33 516.05 137.00 515.33 140.00 514.80C143.00 514.27 145.72 513.58 148.00 513.20C150.28 512.82 150.03 512.47 153.70 512.50C157.37 512.53 165.20 512.88 170.00 513.40C174.80 513.92 179.62 515.00 182.50 515.60C185.38 516.20 184.38 516.77 187.30 517.00C190.22 517.23 194.72 517.02 200.00 517.00C205.28 516.98 213.17 516.92 219.00 516.90C224.83 516.88 232.33 516.90 235.00 516.90M187.30 518.00C189.42 517.93 194.72 517.70 200.00 517.60C205.28 517.50 213.17 517.43 219.00 517.40C224.83 517.37 232.33 517.40 235.00 517.40M120.03 516.78C122.19 516.81 129.59 516.71 133.00 517.00C136.41 517.29 138.25 517.75 140.50 518.50C142.75 519.25 144.75 520.50 146.50 521.50C148.25 522.50 149.80 523.90 151.00 524.50C152.20 525.10 151.70 525.25 153.70 525.10C155.70 524.95 160.20 524.08 163.00 523.60C165.80 523.13 167.25 523.29 170.50 522.25C173.75 521.21 179.70 518.44 182.50 517.38C185.30 516.31 186.50 516.13 187.30 515.88M120.00 550.60C121.00 549.83 123.88 547.68 126.00 546.00C128.12 544.32 130.37 542.37 132.70 540.50C135.03 538.63 137.78 536.55 140.00 534.80C142.22 533.05 144.25 531.30 146.00 530.00C147.75 528.70 149.22 527.73 150.50 527.00C151.78 526.27 151.12 526.10 153.70 525.60C156.28 525.10 161.73 524.93 166.00 524.00C170.27 523.07 175.75 520.90 179.30 520.00C182.85 519.10 185.31 518.48 187.30 518.60C189.29 518.73 188.72 519.39 191.25 520.75C193.78 522.11 199.12 524.75 202.50 526.75C205.88 528.75 208.75 530.88 211.50 532.75C214.25 534.62 216.42 536.08 219.00 538.00C221.58 539.92 224.33 542.20 227.00 544.30C229.67 546.40 233.67 549.55 235.00 550.60M120.00 550.60C120.67 549.60 122.71 546.55 124.00 544.60C125.29 542.65 126.25 541.13 127.75 538.90C129.25 536.67 131.12 533.73 133.00 531.20C134.88 528.68 137.25 525.74 139.00 523.75C140.75 521.76 142.00 520.75 143.50 519.25C145.00 517.75 146.75 515.86 148.00 514.75C149.25 513.64 150.05 513.09 151.00 512.60C151.95 512.11 153.25 511.93 153.70 511.80M120.00 550.60C120.60 549.60 122.40 546.55 123.60 544.60C124.80 542.65 125.77 541.17 127.20 538.90C128.63 536.63 130.48 533.65 132.20 531.00C133.92 528.35 135.87 525.25 137.50 523.00C139.13 520.75 140.50 519.33 142.00 517.50C143.50 515.67 145.17 513.50 146.50 512.00C147.83 510.50 148.80 509.25 150.00 508.50C151.20 507.75 153.08 507.67 153.70 507.50M198.00 512.50C198.83 512.83 201.38 513.50 203.00 514.50C204.62 515.50 205.96 516.83 207.75 518.50C209.54 520.17 211.62 522.25 213.75 524.50C215.88 526.75 218.50 529.75 220.50 532.00C222.50 534.25 224.10 535.95 225.75 538.00C227.40 540.05 228.86 542.20 230.40 544.30C231.94 546.40 234.23 549.55 235.00 550.60M196.00 511.00C197.00 511.42 200.17 512.42 202.00 513.50C203.83 514.58 205.17 515.82 207.00 517.50C208.83 519.18 210.83 521.27 213.00 523.60C215.17 525.93 217.93 529.17 220.00 531.50C222.07 533.83 223.70 535.50 225.40 537.60C227.10 539.70 228.60 541.93 230.20 544.10C231.80 546.27 234.20 549.52 235.00 550.60M235.00 550.62C235.92 548.85 238.54 543.65 240.50 540.00C242.46 536.35 244.67 532.29 246.75 528.75C248.83 525.21 251.12 521.35 253.00 518.75C254.88 516.15 256.33 515.00 258.00 513.12C259.67 511.25 261.33 509.27 263.00 507.50C264.67 505.73 265.50 505.10 268.00 502.50C270.50 499.90 274.67 495.21 278.00 491.88C281.33 488.54 284.67 485.21 288.00 482.50C291.33 479.79 294.67 477.50 298.00 475.62C301.33 473.75 304.67 472.50 308.00 471.25C311.33 470.00 314.67 469.06 318.00 468.12C321.33 467.19 323.62 466.56 328.00 465.62C332.38 464.69 341.54 463.02 344.25 462.50M235.00 550.62C236.96 548.85 242.71 543.44 246.75 540.00C250.79 536.56 255.08 533.12 259.25 530.00C263.42 526.88 267.58 523.85 271.75 521.25C275.92 518.65 280.08 516.46 284.25 514.38C288.42 512.29 292.58 510.31 296.75 508.75C300.92 507.19 305.08 506.04 309.25 505.00C313.42 503.96 317.58 503.08 321.75 502.50C325.92 501.92 330.50 501.67 334.25 501.50C338.00 501.33 342.58 501.50 344.25 501.50M235.00 493.60C236.67 493.47 241.67 493.33 245.00 492.85C248.33 492.36 251.67 491.54 255.00 490.70C258.33 489.86 261.17 489.50 265.00 487.80C268.83 486.10 273.50 482.72 278.00 480.50C282.50 478.28 287.50 476.04 292.00 474.50C296.50 472.96 300.67 472.13 305.00 471.25C309.33 470.37 313.67 469.64 318.00 469.20C322.33 468.76 326.63 468.75 331.00 468.60C335.37 468.45 342.00 468.35 344.20 468.30M235.00 497.30C236.67 497.13 241.67 496.94 245.00 496.29C248.33 495.64 251.67 494.53 255.00 493.40C258.33 492.27 261.17 491.35 265.00 489.50C268.83 487.65 273.50 484.55 278.00 482.30C282.50 480.05 287.50 477.57 292.00 476.00C296.50 474.43 300.67 473.70 305.00 472.85C309.33 472.00 313.67 471.34 318.00 470.90C322.33 470.46 326.63 470.38 331.00 470.20C335.37 470.02 342.00 469.87 344.20 469.80M235.00 499.00C236.67 498.83 241.67 498.63 245.00 497.96C248.33 497.29 251.67 496.16 255.00 495.00C258.33 493.84 261.17 492.83 265.00 491.00C268.83 489.17 273.50 486.25 278.00 484.00C282.50 481.75 287.50 479.09 292.00 477.50C296.50 475.91 300.67 475.27 305.00 474.45C309.33 473.63 313.67 473.06 318.00 472.60C322.33 472.14 326.63 471.95 331.00 471.70C335.37 471.45 342.00 471.20 344.20 471.10M235.00 500.70C236.67 500.52 241.67 500.32 245.00 499.63C248.33 498.95 251.67 497.79 255.00 496.60C258.33 495.41 261.17 494.32 265.00 492.50C268.83 490.68 273.50 487.85 278.00 485.70C282.50 483.55 287.50 480.97 292.00 479.60C296.50 478.23 300.67 478.00 305.00 477.50C309.33 477.00 313.67 476.85 318.00 476.60C322.33 476.35 326.63 476.15 331.00 476.00C335.37 475.85 342.00 475.75 344.20 475.70M235.00 502.30C236.67 502.12 241.67 501.91 245.00 501.22C248.33 500.53 251.67 499.35 255.00 498.15C258.33 496.95 261.17 495.81 265.00 494.00C268.83 492.19 273.50 489.53 278.00 487.30C282.50 485.07 287.50 482.09 292.00 480.60C296.50 479.11 300.67 478.90 305.00 478.35C309.33 477.80 313.67 477.59 318.00 477.30C322.33 477.01 326.63 476.78 331.00 476.60C335.37 476.42 342.00 476.27 344.20 476.20M235.00 503.50C236.67 503.33 241.67 503.13 245.00 502.46C248.33 501.79 251.67 500.66 255.00 499.50C258.33 498.34 261.17 497.28 265.00 495.50C268.83 493.72 273.50 491.12 278.00 488.80C282.50 486.48 287.50 483.20 292.00 481.60C296.50 480.00 300.67 479.80 305.00 479.20C309.33 478.60 313.67 478.32 318.00 478.00C322.33 477.68 326.63 477.45 331.00 477.25C335.37 477.05 342.00 476.88 344.20 476.80M235.00 504.70C236.67 504.58 241.67 504.43 245.00 503.96C248.33 503.48 251.67 502.68 255.00 501.85C258.33 501.02 261.17 500.39 265.00 499.00C268.83 497.61 273.50 495.28 278.00 493.50C282.50 491.72 287.50 489.50 292.00 488.30C296.50 487.10 300.67 486.77 305.00 486.30C309.33 485.83 313.67 485.71 318.00 485.50C322.33 485.29 326.63 485.15 331.00 485.05C335.37 484.95 342.00 484.92 344.20 484.90M235.00 506.70C236.67 506.58 241.67 506.43 245.00 505.96C248.33 505.48 251.67 504.68 255.00 503.85C258.33 503.02 261.17 502.39 265.00 501.00C268.83 499.61 273.50 497.25 278.00 495.50C282.50 493.75 287.50 491.68 292.00 490.50C296.50 489.32 300.67 488.90 305.00 488.40C309.33 487.90 313.67 487.73 318.00 487.50C322.33 487.27 326.63 487.15 331.00 487.05C335.37 486.95 342.00 486.92 344.20 486.90M235.00 512.70C236.67 512.51 241.67 512.29 245.00 511.57C248.33 510.84 251.67 509.61 255.00 508.35C258.33 507.09 261.17 505.81 265.00 504.00C268.83 502.19 273.50 499.37 278.00 497.50C282.50 495.63 287.50 493.96 292.00 492.80C296.50 491.64 300.67 491.10 305.00 490.55C309.33 490.00 313.67 489.76 318.00 489.50C322.33 489.24 326.63 489.10 331.00 488.98C335.37 488.85 342.00 488.79 344.20 488.75M235.00 513.50C236.67 513.35 241.67 513.17 245.00 512.59C248.33 512.01 251.67 511.01 255.00 510.00C258.33 508.99 261.17 508.17 265.00 506.50C268.83 504.83 273.50 501.88 278.00 500.00C282.50 498.12 287.50 496.41 292.00 495.20C296.50 493.99 300.67 493.37 305.00 492.75C309.33 492.13 313.67 491.81 318.00 491.50C322.33 491.19 326.63 491.05 331.00 490.90C335.37 490.75 342.00 490.65 344.20 490.60M235.00 516.90C236.67 516.74 241.67 516.55 245.00 515.94C248.33 515.32 251.67 514.27 255.00 513.20C258.33 512.13 261.17 511.03 265.00 509.50C268.83 507.97 273.50 505.67 278.00 504.00C282.50 502.33 287.50 500.85 292.00 499.50C296.50 498.15 300.67 496.90 305.00 495.90C309.33 494.90 313.67 494.03 318.00 493.50C322.33 492.97 326.63 492.92 331.00 492.70C335.37 492.48 342.00 492.28 344.20 492.20M235.00 517.40C236.67 517.26 241.67 517.10 245.00 516.57C248.33 516.03 251.67 515.13 255.00 514.20C258.33 513.27 261.17 512.37 265.00 511.00C268.83 509.63 273.50 507.55 278.00 506.00C282.50 504.45 287.50 503.07 292.00 501.70C296.50 500.32 300.67 498.87 305.00 497.75C309.33 496.63 313.67 495.59 318.00 495.00C322.33 494.41 326.63 494.43 331.00 494.23C335.37 494.02 342.00 493.83 344.20 493.75M235.00 518.30C236.67 518.17 241.67 518.02 245.00 517.52C248.33 517.02 251.67 516.17 255.00 515.30C258.33 514.43 261.17 513.55 265.00 512.30C268.83 511.05 273.50 509.23 278.00 507.80C282.50 506.37 287.50 505.10 292.00 503.70C296.50 502.30 300.67 500.63 305.00 499.40C309.33 498.17 313.67 496.98 318.00 496.30C322.33 495.62 326.63 495.58 331.00 495.30C335.37 495.02 342.00 494.72 344.20 494.60M344.25 456.50C346.04 456.70 351.33 457.26 355.00 457.73C358.67 458.19 362.46 458.92 366.25 459.30C370.04 459.68 374.00 459.88 377.75 460.00C381.50 460.12 385.04 460.00 388.75 460.00C392.46 460.00 396.25 460.00 400.00 460.00C403.75 460.00 407.29 460.12 411.25 460.00C415.21 459.88 419.38 459.68 423.75 459.30C428.12 458.92 433.33 458.15 437.50 457.73C441.67 457.31 445.21 456.98 448.75 456.78C452.29 456.58 457.08 456.55 458.75 456.50M344.25 460.00C346.04 460.02 351.33 460.08 355.00 460.13C358.67 460.18 362.46 460.26 366.25 460.30C370.04 460.34 374.00 460.37 377.75 460.38C381.50 460.38 385.04 460.35 388.75 460.34C392.46 460.32 396.25 460.29 400.00 460.27C403.75 460.26 407.29 460.26 411.25 460.25C415.21 460.24 419.38 460.23 423.75 460.20C428.12 460.17 433.33 460.12 437.50 460.09C441.67 460.06 445.21 460.03 448.75 460.02C452.29 460.01 457.08 460.00 458.75 460.00M344.25 461.00C346.04 461.07 351.33 461.27 355.00 461.44C358.67 461.60 362.46 461.86 366.25 462.00C370.04 462.14 374.00 462.15 377.75 462.25C381.50 462.35 385.04 462.46 388.75 462.62C392.46 462.79 396.25 463.10 400.00 463.25C403.75 463.40 407.29 463.54 411.25 463.50C415.21 463.46 419.38 463.27 423.75 463.00C428.12 462.73 433.33 462.18 437.50 461.88C441.67 461.57 445.21 461.35 448.75 461.20C452.29 461.05 457.08 461.03 458.75 461.00M344.25 462.50C346.04 462.51 351.33 462.55 355.00 462.59C358.67 462.62 362.46 462.67 366.25 462.70C370.04 462.73 374.00 462.68 377.75 462.75C381.50 462.82 385.04 462.96 388.75 463.12C392.46 463.29 396.25 463.60 400.00 463.75C403.75 463.90 407.29 464.01 411.25 464.00C415.21 463.99 419.38 463.86 423.75 463.70C428.12 463.54 433.33 463.20 437.50 463.02C441.67 462.84 445.21 462.71 448.75 462.62C452.29 462.53 457.08 462.52 458.75 462.50M344.25 463.12C346.04 463.27 351.33 463.67 355.00 464.00C358.67 464.33 362.46 464.85 366.25 465.12C370.04 465.40 374.00 465.48 377.75 465.62C381.50 465.77 385.04 465.83 388.75 466.00C392.46 466.17 396.25 466.48 400.00 466.62C403.75 466.77 407.29 466.96 411.25 466.88C415.21 466.79 419.38 466.53 423.75 466.12C428.12 465.72 433.33 464.89 437.50 464.44C441.67 463.99 445.21 463.64 448.75 463.43C452.29 463.21 457.08 463.18 458.75 463.12M344.25 467.75C346.04 467.79 351.33 467.91 355.00 468.01C358.67 468.11 362.46 468.27 366.25 468.35C370.04 468.43 374.00 468.41 377.75 468.50C381.50 468.59 385.04 468.71 388.75 468.88C392.46 469.04 396.25 469.35 400.00 469.50C403.75 469.65 407.29 469.77 411.25 469.75C415.21 469.73 419.38 469.57 423.75 469.35C428.12 469.13 433.33 468.69 437.50 468.45C441.67 468.21 445.21 468.03 448.75 467.91C452.29 467.79 457.08 467.78 458.75 467.75M344.25 468.25C346.04 468.29 351.33 468.41 355.00 468.51C358.67 468.61 362.46 468.77 366.25 468.85C370.04 468.93 374.00 468.91 377.75 469.00C381.50 469.09 385.04 469.21 388.75 469.38C392.46 469.54 396.25 469.85 400.00 470.00C403.75 470.15 407.29 470.27 411.25 470.25C415.21 470.23 419.38 470.07 423.75 469.85C428.12 469.63 433.33 469.19 437.50 468.95C441.67 468.71 445.21 468.53 448.75 468.41C452.29 468.29 457.08 468.28 458.75 468.25M344.25 469.75C346.04 469.82 351.33 470.02 355.00 470.19C358.67 470.35 362.46 470.61 366.25 470.75C370.04 470.89 374.00 470.90 377.75 471.00C381.50 471.10 385.04 471.21 388.75 471.38C392.46 471.54 396.25 471.85 400.00 472.00C403.75 472.15 407.29 472.29 411.25 472.25C415.21 472.21 419.38 472.02 423.75 471.75C428.12 471.48 433.33 470.93 437.50 470.62C441.67 470.32 445.21 470.10 448.75 469.95C452.29 469.80 457.08 469.78 458.75 469.75M344.25 471.12C346.04 471.15 351.33 471.23 355.00 471.30C358.67 471.37 362.46 471.47 366.25 471.52C370.04 471.58 374.00 471.55 377.75 471.62C381.50 471.70 385.04 471.81 388.75 471.96C392.46 472.11 396.25 472.39 400.00 472.52C403.75 472.66 407.29 472.77 411.25 472.75C415.21 472.73 419.38 472.60 423.75 472.43C428.12 472.25 433.33 471.89 437.50 471.69C441.67 471.50 445.21 471.35 448.75 471.25C452.29 471.16 457.08 471.15 458.75 471.12M344.25 475.75C346.04 475.81 351.33 475.97 355.00 476.10C358.67 476.23 362.46 476.44 366.25 476.55C370.04 476.66 374.00 476.68 377.75 476.75C381.50 476.82 385.04 476.88 388.75 476.98C392.46 477.08 396.25 477.26 400.00 477.35C403.75 477.44 407.29 477.53 411.25 477.50C415.21 477.47 419.38 477.34 423.75 477.15C428.12 476.96 433.33 476.57 437.50 476.36C441.67 476.15 445.21 475.99 448.75 475.89C452.29 475.79 457.08 475.77 458.75 475.75M344.25 476.25C346.04 476.30 351.33 476.44 355.00 476.56C358.67 476.67 362.46 476.86 366.25 476.95C370.04 477.04 374.00 477.06 377.75 477.12C381.50 477.19 385.04 477.23 388.75 477.31C392.46 477.40 396.25 477.55 400.00 477.62C403.75 477.70 407.29 477.78 411.25 477.75C415.21 477.72 419.38 477.61 423.75 477.45C428.12 477.29 433.33 476.95 437.50 476.77C441.67 476.59 445.21 476.46 448.75 476.37C452.29 476.28 457.08 476.27 458.75 476.25M344.25 476.75C346.04 476.79 351.33 476.91 355.00 477.01C358.67 477.11 362.46 477.27 366.25 477.35C370.04 477.43 374.00 477.45 377.75 477.50C381.50 477.55 385.04 477.58 388.75 477.65C392.46 477.72 396.25 477.84 400.00 477.90C403.75 477.96 407.29 478.02 411.25 478.00C415.21 477.98 419.38 477.89 423.75 477.75C428.12 477.61 433.33 477.34 437.50 477.19C441.67 477.04 445.21 476.92 448.75 476.85C452.29 476.78 457.08 476.77 458.75 476.75M344.25 484.88C346.04 484.63 351.33 483.95 355.00 483.39C358.67 482.82 362.46 481.94 366.25 481.48C370.04 481.01 374.00 480.60 377.75 480.62C381.50 480.65 385.04 481.19 388.75 481.64C392.46 482.09 396.25 482.93 400.00 483.32C403.75 483.72 407.29 483.86 411.25 484.00C415.21 484.14 419.38 484.08 423.75 484.18C428.12 484.27 433.33 484.46 437.50 484.57C441.67 484.67 445.21 484.75 448.75 484.81C452.29 484.86 457.08 484.86 458.75 484.88M344.25 486.88C346.04 486.69 351.33 486.20 355.00 485.78C358.67 485.36 362.46 484.71 366.25 484.38C370.04 484.04 374.00 483.81 377.75 483.75C381.50 483.69 385.04 483.90 388.75 484.01C392.46 484.13 396.25 484.35 400.00 484.45C403.75 484.55 407.29 484.52 411.25 484.62C415.21 484.73 419.38 484.83 423.75 485.07C428.12 485.32 433.33 485.82 437.50 486.09C441.67 486.36 445.21 486.56 448.75 486.69C452.29 486.83 457.08 486.85 458.75 486.88M344.25 488.75C346.04 488.64 351.33 488.34 355.00 488.09C358.67 487.84 362.46 487.45 366.25 487.25C370.04 487.05 374.00 486.98 377.75 486.88C381.50 486.77 385.04 486.73 388.75 486.61C392.46 486.50 396.25 486.28 400.00 486.18C403.75 486.07 407.29 485.94 411.25 486.00C415.21 486.06 419.38 486.25 423.75 486.55C428.12 486.85 433.33 487.46 437.50 487.79C441.67 488.12 445.21 488.37 448.75 488.53C452.29 488.69 457.08 488.71 458.75 488.75M344.25 490.62C346.04 490.55 351.33 490.35 355.00 490.19C358.67 490.02 362.46 489.76 366.25 489.62C370.04 489.49 374.00 489.47 377.75 489.38C381.50 489.28 385.04 489.19 388.75 489.04C392.46 488.89 396.25 488.61 400.00 488.48C403.75 488.34 407.29 488.21 411.25 488.25C415.21 488.29 419.38 488.47 423.75 488.73C428.12 488.98 433.33 489.51 437.50 489.79C441.67 490.08 445.21 490.30 448.75 490.44C452.29 490.57 457.08 490.59 458.75 490.62M344.25 492.25C346.04 492.23 351.33 492.17 355.00 492.12C358.67 492.07 362.46 491.99 366.25 491.95C370.04 491.91 374.00 491.86 377.75 491.88C381.50 491.89 385.04 491.98 388.75 492.06C392.46 492.15 396.25 492.30 400.00 492.38C403.75 492.45 407.29 492.49 411.25 492.50C415.21 492.51 419.38 492.48 423.75 492.45C428.12 492.42 433.33 492.37 437.50 492.34C441.67 492.31 445.21 492.28 448.75 492.27C452.29 492.26 457.08 492.25 458.75 492.25M344.25 493.75C346.04 493.76 351.33 493.80 355.00 493.84C358.67 493.87 362.46 493.92 366.25 493.95C370.04 493.98 374.00 493.95 377.75 494.00C381.50 494.05 385.04 494.12 388.75 494.23C392.46 494.33 396.25 494.51 400.00 494.60C403.75 494.69 407.29 494.76 411.25 494.75C415.21 494.74 419.38 494.66 423.75 494.55C428.12 494.44 433.33 494.22 437.50 494.10C441.67 493.98 445.21 493.89 448.75 493.83C452.29 493.77 457.08 493.76 458.75 493.75M344.25 494.62C346.04 494.62 351.33 494.62 355.00 494.62C358.67 494.62 362.46 494.62 366.25 494.62C370.04 494.62 374.00 494.59 377.75 494.62C381.50 494.66 385.04 494.73 388.75 494.81C392.46 494.90 396.25 495.05 400.00 495.12C403.75 495.20 407.29 495.25 411.25 495.25C415.21 495.25 419.38 495.19 423.75 495.12C428.12 495.06 433.33 494.92 437.50 494.84C441.67 494.77 445.21 494.71 448.75 494.68C452.29 494.64 457.08 494.63 458.75 494.62M344.25 501.50C346.04 501.34 351.33 500.90 355.00 500.54C358.67 500.17 362.46 499.60 366.25 499.30C370.04 499.00 374.00 498.90 377.75 498.75C381.50 498.60 385.04 498.54 388.75 498.38C392.46 498.21 396.25 497.90 400.00 497.75C403.75 497.60 407.29 497.41 411.25 497.50C415.21 497.59 419.38 497.87 423.75 498.30C428.12 498.73 433.33 499.62 437.50 500.10C441.67 500.58 445.21 500.95 448.75 501.18C452.29 501.41 457.08 501.45 458.75 501.50"/>
<path class="z" d="M120.00 550.60H458.80"/>
</g>
<g clip-path="url(#c2)">
<path class="b" d="M475.56 237.33C477.26 237.04 482.22 236.59 485.78 235.56C489.33 234.52 493.19 232.78 496.89 231.11C500.59 229.44 504.67 227.41 508.00 225.56C511.33 223.70 513.93 222.41 516.89 220.00C519.85 217.59 522.81 214.07 525.78 211.11C528.74 208.15 531.70 205.00 534.67 202.22C537.63 199.44 540.59 196.48 543.56 194.44C546.52 192.41 549.11 191.30 552.44 190.00C555.78 188.70 559.85 187.48 563.56 186.67C567.26 185.85 571.19 185.44 574.67 185.11C578.15 184.78 582.81 184.74 584.44 184.67M475.56 247.33C478.00 247.33 486.67 247.81 490.22 247.33C493.78 246.85 494.30 246.22 496.89 244.44C499.48 242.67 502.81 239.81 505.78 236.67C508.74 233.52 511.70 228.33 514.67 225.56C517.63 222.78 520.59 221.48 523.56 220.00C526.52 218.52 529.11 217.41 532.44 216.67C535.78 215.93 539.48 215.67 543.56 215.56C547.63 215.44 552.44 215.74 556.89 216.00C561.33 216.26 565.63 216.89 570.22 217.11C574.81 217.33 582.07 217.30 584.44 217.33M475.50 256.40C476.75 256.65 480.50 257.40 483.00 257.90C485.50 258.40 488.00 258.90 490.50 259.40C493.00 259.90 495.75 260.15 498.00 260.90C500.25 261.65 502.00 262.65 504.00 263.90C506.00 265.15 508.00 266.78 510.00 268.40C512.00 270.02 514.00 271.79 516.00 273.60C518.00 275.41 520.33 277.80 522.00 279.25C523.67 280.70 524.22 280.96 526.00 282.30C527.78 283.64 530.48 285.68 532.70 287.30C534.92 288.92 537.08 290.72 539.30 292.00C541.52 293.28 543.77 294.05 546.00 295.00C548.23 295.95 550.48 296.98 552.70 297.70C554.92 298.42 557.08 298.87 559.30 299.30C561.52 299.73 563.77 300.02 566.00 300.30C568.23 300.58 570.48 300.80 572.70 301.00C574.92 301.20 577.33 301.38 579.30 301.50C581.27 301.62 583.63 301.67 584.50 301.70M475.50 256.40C476.75 256.70 480.50 257.55 483.00 258.20C485.50 258.85 488.00 259.57 490.50 260.30C493.00 261.03 495.75 261.65 498.00 262.60C500.25 263.55 502.00 264.68 504.00 266.00C506.00 267.32 508.00 268.92 510.00 270.50C512.00 272.08 514.00 273.80 516.00 275.50C518.00 277.20 520.33 279.28 522.00 280.70C523.67 282.12 524.22 282.57 526.00 284.00C527.78 285.43 530.48 287.47 532.70 289.30C534.92 291.13 537.08 293.27 539.30 295.00C541.52 296.73 543.77 298.20 546.00 299.70C548.23 301.20 550.48 302.62 552.70 304.00C554.92 305.38 557.08 306.78 559.30 308.00C561.52 309.22 563.77 310.35 566.00 311.30C568.23 312.25 570.48 313.08 572.70 313.70C574.92 314.32 577.33 314.73 579.30 315.00C581.27 315.27 583.63 315.25 584.50 315.30M475.50 264.60C476.50 264.42 479.50 263.93 481.50 263.50C483.50 263.07 485.75 262.27 487.50 262.00C489.25 261.73 490.50 261.60 492.00 261.85C493.50 262.10 494.75 262.60 496.50 263.50C498.25 264.40 500.50 265.88 502.50 267.25C504.50 268.62 506.50 270.19 508.50 271.75C510.50 273.31 512.50 274.98 514.50 276.60C516.50 278.23 518.58 279.93 520.50 281.50C522.42 283.07 523.97 284.42 526.00 286.00C528.03 287.58 530.48 289.25 532.70 291.00C534.92 292.75 537.08 294.83 539.30 296.50C541.52 298.17 543.77 299.58 546.00 301.00C548.23 302.42 550.48 303.70 552.70 305.00C554.92 306.30 557.08 307.63 559.30 308.80C561.52 309.97 563.77 311.08 566.00 312.00C568.23 312.92 570.48 313.70 572.70 314.30C574.92 314.90 577.33 315.33 579.30 315.60C581.27 315.87 583.63 315.85 584.50 315.90M475.50 277.40C476.50 277.40 479.25 277.15 481.50 277.40C483.75 277.65 486.50 278.28 489.00 278.90C491.50 279.52 494.00 280.29 496.50 281.10C499.00 281.91 501.50 282.81 504.00 283.75C506.50 284.69 509.00 285.75 511.50 286.75C514.00 287.75 516.58 288.88 519.00 289.75C521.42 290.62 523.72 291.21 526.00 292.00C528.28 292.79 530.48 293.55 532.70 294.50C534.92 295.45 537.08 296.67 539.30 297.70C541.52 298.73 543.77 299.82 546.00 300.70C548.23 301.58 550.48 302.40 552.70 303.00C554.92 303.60 557.08 303.97 559.30 304.30C561.52 304.63 563.77 304.83 566.00 305.00C568.23 305.17 570.48 305.20 572.70 305.30C574.92 305.40 577.33 305.53 579.30 305.60C581.27 305.67 583.63 305.68 584.50 305.70M475.50 302.50C477.08 302.82 481.75 303.47 485.00 304.40C488.25 305.33 491.67 306.85 495.00 308.10C498.33 309.35 501.67 310.92 505.00 311.90C508.33 312.88 511.67 313.55 515.00 314.00C518.33 314.45 522.05 314.60 525.00 314.60C527.95 314.60 530.32 314.43 532.70 314.00C535.08 313.57 537.08 312.88 539.30 312.00C541.52 311.12 543.77 309.87 546.00 308.70C548.23 307.53 550.48 306.23 552.70 305.00C554.92 303.77 557.08 302.30 559.30 301.30C561.52 300.30 563.77 299.63 566.00 299.00C568.23 298.37 570.48 297.92 572.70 297.50C574.92 297.08 577.33 296.70 579.30 296.50C581.27 296.30 583.63 296.33 584.50 296.30M475.50 388.75C477.08 388.65 481.75 388.75 485.00 388.12C488.25 387.50 491.67 386.35 495.00 385.00C498.33 383.65 501.67 381.88 505.00 380.00C508.33 378.12 511.67 375.73 515.00 373.75C518.33 371.77 521.67 369.90 525.00 368.12C528.33 366.35 531.67 364.79 535.00 363.12C538.33 361.46 541.67 359.58 545.00 358.12C548.33 356.67 551.67 355.48 555.00 354.38C558.33 353.27 561.67 352.27 565.00 351.50C568.33 350.73 571.75 350.17 575.00 349.75C578.25 349.33 582.92 349.12 584.50 349.00M475.50 367.25C477.71 367.33 484.46 367.40 488.75 367.75C493.04 368.10 497.08 368.83 501.25 369.38C505.42 369.92 509.58 370.54 513.75 371.00C517.92 371.46 522.08 371.73 526.25 372.12C530.42 372.52 534.58 373.00 538.75 373.38C542.92 373.75 547.08 374.15 551.25 374.38C555.42 374.60 559.58 374.73 563.75 374.75C567.92 374.77 572.79 374.54 576.25 374.50C579.71 374.46 583.12 374.50 584.50 374.50M475.50 370.62C477.71 370.56 484.46 370.23 488.75 370.25C493.04 370.27 497.08 370.46 501.25 370.75C505.42 371.04 509.58 371.65 513.75 372.00C517.92 372.35 522.08 372.52 526.25 372.88C530.42 373.23 534.58 373.75 538.75 374.12C542.92 374.50 547.08 374.92 551.25 375.12C555.42 375.33 559.58 375.38 563.75 375.38C567.92 375.38 572.79 375.17 576.25 375.12C579.71 375.08 583.12 375.12 584.50 375.12M475.50 390.00C477.71 389.79 484.46 388.79 488.75 388.75C493.04 388.71 497.08 389.29 501.25 389.75C505.42 390.21 509.58 390.94 513.75 391.50C517.92 392.06 522.08 392.65 526.25 393.12C530.42 393.60 534.58 394.02 538.75 394.38C542.92 394.73 547.08 394.98 551.25 395.25C555.42 395.52 559.58 395.79 563.75 396.00C567.92 396.21 572.79 396.35 576.25 396.50C579.71 396.65 583.12 396.81 584.50 396.88M475.50 393.12C477.71 393.12 484.46 392.92 488.75 393.12C493.04 393.33 497.08 393.96 501.25 394.38C505.42 394.79 509.58 395.27 513.75 395.62C517.92 395.98 522.08 396.23 526.25 396.50C530.42 396.77 534.58 396.98 538.75 397.25C542.92 397.52 547.08 397.83 551.25 398.12C555.42 398.42 559.58 398.75 563.75 399.00C567.92 399.25 572.79 399.46 576.25 399.62C579.71 399.79 583.12 399.94 584.50 400.00M475.50 391.00C477.71 390.94 484.46 390.54 488.75 390.62C493.04 390.71 497.08 391.06 501.25 391.50C505.42 391.94 509.58 392.71 513.75 393.25C517.92 393.79 522.08 394.33 526.25 394.75C530.42 395.17 534.58 395.42 538.75 395.75C542.92 396.08 547.08 396.46 551.25 396.75C555.42 397.04 559.58 397.27 563.75 397.50C567.92 397.73 572.79 397.98 576.25 398.12C579.71 398.27 583.12 398.33 584.50 398.38M475.50 436.88C476.67 436.67 480.08 436.35 482.50 435.62C484.92 434.90 487.50 433.85 490.00 432.50C492.50 431.15 495.00 429.17 497.50 427.50C500.00 425.83 503.12 423.75 505.00 422.50C506.88 421.25 507.92 421.15 508.75 420.00C509.58 418.85 508.12 417.92 510.00 415.62C511.88 413.33 516.67 409.27 520.00 406.25C523.33 403.23 527.08 400.21 530.00 397.50C532.92 394.79 535.00 392.29 537.50 390.00C540.00 387.71 542.50 385.73 545.00 383.75C547.50 381.77 550.00 379.79 552.50 378.12C555.00 376.46 557.50 374.90 560.00 373.75C562.50 372.60 564.79 371.98 567.50 371.25C570.21 370.52 573.42 369.79 576.25 369.38C579.08 368.96 583.12 368.85 584.50 368.75M475.50 438.75C477.08 438.44 482.17 437.81 485.00 436.88C487.83 435.94 490.00 434.58 492.50 433.12C495.00 431.67 497.50 429.79 500.00 428.12C502.50 426.46 505.62 424.48 507.50 423.12C509.38 421.77 509.79 421.25 511.25 420.00C512.71 418.75 513.75 417.92 516.25 415.62C518.75 413.33 523.12 409.27 526.25 406.25C529.38 403.23 532.29 400.10 535.00 397.50C537.71 394.90 540.00 392.81 542.50 390.62C545.00 388.44 547.50 386.35 550.00 384.38C552.50 382.40 555.00 380.35 557.50 378.75C560.00 377.15 562.50 375.83 565.00 374.75C567.50 373.67 570.00 372.90 572.50 372.25C575.00 371.60 578.00 371.15 580.00 370.88C582.00 370.60 583.75 370.67 584.50 370.62M475.50 429.38C477.71 429.48 484.46 429.58 488.75 430.00C493.04 430.42 497.08 431.21 501.25 431.88C505.42 432.54 509.58 433.31 513.75 434.00C517.92 434.69 522.08 435.38 526.25 436.00C530.42 436.62 534.58 437.25 538.75 437.75C542.92 438.25 547.08 438.62 551.25 439.00C555.42 439.38 559.58 439.73 563.75 440.00C567.92 440.27 572.79 440.46 576.25 440.62C579.71 440.79 583.12 440.94 584.50 441.00M475.50 437.50C477.08 437.29 481.75 436.56 485.00 436.25C488.25 435.94 491.25 435.52 495.00 435.62C498.75 435.73 503.33 436.35 507.50 436.88C511.67 437.40 515.83 438.19 520.00 438.75C524.17 439.31 528.33 439.79 532.50 440.25C536.67 440.71 540.83 441.17 545.00 441.50C549.17 441.83 553.33 442.04 557.50 442.25C561.67 442.46 565.50 442.60 570.00 442.75C574.50 442.90 582.08 443.06 584.50 443.12M475.50 440.00C477.71 440.00 484.46 439.69 488.75 440.00C493.04 440.31 497.08 441.21 501.25 441.88C505.42 442.54 509.58 443.38 513.75 444.00C517.92 444.62 522.08 445.21 526.25 445.62C530.42 446.04 534.58 446.29 538.75 446.50C542.92 446.71 547.08 446.85 551.25 446.88C555.42 446.90 559.58 446.77 563.75 446.62C567.92 446.48 572.79 446.17 576.25 446.00C579.71 445.83 583.12 445.69 584.50 445.62M475.50 457.50C477.71 457.60 484.46 457.75 488.75 458.12C493.04 458.50 497.08 459.40 501.25 459.75C505.42 460.10 509.58 460.25 513.75 460.25C517.92 460.25 522.08 460.04 526.25 459.75C530.42 459.46 534.58 458.88 538.75 458.50C542.92 458.12 547.08 457.62 551.25 457.50C555.42 457.38 560.21 457.50 563.75 457.75C567.29 458.00 569.79 458.52 572.50 459.00C575.21 459.48 578.00 460.21 580.00 460.62C582.00 461.04 583.75 461.35 584.50 461.50M475.50 476.88C477.71 476.73 484.46 476.42 488.75 476.00C493.04 475.58 497.08 475.06 501.25 474.38C505.42 473.69 509.58 472.71 513.75 471.88C517.92 471.04 522.08 470.21 526.25 469.38C530.42 468.54 534.58 467.65 538.75 466.88C542.92 466.10 547.08 465.38 551.25 464.75C555.42 464.12 559.58 463.54 563.75 463.12C567.92 462.71 572.79 462.46 576.25 462.25C579.71 462.04 583.12 461.94 584.50 461.88M475.50 486.25C477.08 486.15 481.75 486.15 485.00 485.62C488.25 485.10 491.25 484.33 495.00 483.12C498.75 481.92 503.33 479.90 507.50 478.38C511.67 476.85 515.83 475.35 520.00 474.00C524.17 472.65 528.33 471.38 532.50 470.25C536.67 469.12 540.83 468.12 545.00 467.25C549.17 466.38 553.33 465.58 557.50 465.00C561.67 464.42 565.50 464.02 570.00 463.75C574.50 463.48 582.08 463.44 584.50 463.38M475.50 488.75C477.08 488.65 481.75 488.65 485.00 488.12C488.25 487.60 491.25 486.88 495.00 485.62C498.75 484.38 503.33 482.23 507.50 480.62C511.67 479.02 515.83 477.40 520.00 476.00C524.17 474.60 528.33 473.42 532.50 472.25C536.67 471.08 540.83 469.96 545.00 469.00C549.17 468.04 553.33 467.17 557.50 466.50C561.67 465.83 565.50 465.35 570.00 465.00C574.50 464.65 582.08 464.48 584.50 464.38M475.50 495.00C477.08 494.90 481.75 494.90 485.00 494.38C488.25 493.85 491.25 493.02 495.00 491.88C498.75 490.73 503.33 489.06 507.50 487.50C511.67 485.94 515.83 484.06 520.00 482.50C524.17 480.94 528.33 479.48 532.50 478.12C536.67 476.77 540.83 475.62 545.00 474.38C549.17 473.12 553.33 471.67 557.50 470.62C561.67 469.58 565.50 468.75 570.00 468.12C574.50 467.50 582.08 467.08 584.50 466.88M475.50 498.12C477.08 497.92 481.75 497.60 485.00 496.88C488.25 496.15 491.67 494.90 495.00 493.75C498.33 492.60 501.67 491.25 505.00 490.00C508.33 488.75 511.67 487.40 515.00 486.25C518.33 485.10 521.67 484.06 525.00 483.12C528.33 482.19 531.67 481.35 535.00 480.62C538.33 479.90 541.67 479.27 545.00 478.75C548.33 478.23 551.67 477.88 555.00 477.50C558.33 477.12 561.67 476.71 565.00 476.50C568.33 476.29 571.75 476.29 575.00 476.25C578.25 476.21 582.92 476.25 584.50 476.25M475.50 495.00C477.08 494.79 481.75 494.48 485.00 493.75C488.25 493.02 491.67 491.88 495.00 490.62C498.33 489.38 501.67 487.60 505.00 486.25C508.33 484.90 511.67 483.65 515.00 482.50C518.33 481.35 521.67 480.42 525.00 479.38C528.33 478.33 531.67 477.19 535.00 476.25C538.33 475.31 541.67 474.48 545.00 473.75C548.33 473.02 551.67 472.40 555.00 471.88C558.33 471.35 561.67 470.98 565.00 470.62C568.33 470.27 571.75 469.96 575.00 469.75C578.25 469.54 582.92 469.44 584.50 469.38M475.50 501.25C477.08 501.04 481.75 500.73 485.00 500.00C488.25 499.27 491.67 498.02 495.00 496.88C498.33 495.73 501.67 494.27 505.00 493.12C508.33 491.98 511.67 491.04 515.00 490.00C518.33 488.96 521.67 487.92 525.00 486.88C528.33 485.83 531.67 484.58 535.00 483.75C538.33 482.92 541.67 482.33 545.00 481.88C548.33 481.42 551.67 481.21 555.00 481.00C558.33 480.79 561.67 480.69 565.00 480.62C568.33 480.56 571.75 480.62 575.00 480.62C578.25 480.62 582.92 480.62 584.50 480.62M475.50 504.38C477.08 504.27 481.75 504.27 485.00 503.75C488.25 503.23 491.67 502.40 495.00 501.25C498.33 500.10 501.67 498.23 505.00 496.88C508.33 495.52 511.67 494.06 515.00 493.12C518.33 492.19 521.67 491.77 525.00 491.25C528.33 490.73 531.67 490.42 535.00 490.00C538.33 489.58 541.67 489.27 545.00 488.75C548.33 488.23 551.67 487.50 555.00 486.88C558.33 486.25 561.67 485.52 565.00 485.00C568.33 484.48 571.75 484.00 575.00 483.75C578.25 483.50 582.92 483.54 584.50 483.50M475.50 507.50C477.71 507.29 484.46 507.08 488.75 506.25C493.04 505.42 497.71 503.75 501.25 502.50C504.79 501.25 506.88 499.90 510.00 498.75C513.12 497.60 516.67 496.46 520.00 495.62C523.33 494.79 526.67 494.31 530.00 493.75C533.33 493.19 536.67 492.77 540.00 492.25C543.33 491.73 546.67 491.21 550.00 490.62C553.33 490.04 556.67 489.27 560.00 488.75C563.33 488.23 565.92 487.81 570.00 487.50C574.08 487.19 582.08 486.98 584.50 486.88M475.50 510.62C477.08 510.52 481.75 510.42 485.00 510.00C488.25 509.58 491.67 508.96 495.00 508.12C498.33 507.29 501.67 506.04 505.00 505.00C508.33 503.96 511.67 502.81 515.00 501.88C518.33 500.94 521.67 500.21 525.00 499.38C528.33 498.54 531.67 497.71 535.00 496.88C538.33 496.04 541.67 495.10 545.00 494.38C548.33 493.65 551.67 493.02 555.00 492.50C558.33 491.98 561.67 491.56 565.00 491.25C568.33 490.94 571.75 490.73 575.00 490.62C578.25 490.52 582.92 490.62 584.50 490.62M475.50 509.00C477.08 508.88 481.75 508.71 485.00 508.25C488.25 507.79 491.67 507.17 495.00 506.25C498.33 505.33 501.67 503.83 505.00 502.75C508.33 501.67 511.67 500.67 515.00 499.75C518.33 498.83 521.67 498.04 525.00 497.25C528.33 496.46 531.67 495.69 535.00 495.00C538.33 494.31 541.67 493.75 545.00 493.12C548.33 492.50 551.67 491.81 555.00 491.25C558.33 490.69 561.67 490.12 565.00 489.75C568.33 489.38 571.75 489.17 575.00 489.00C578.25 488.83 582.92 488.79 584.50 488.75M475.50 523.75C477.08 523.33 481.75 522.40 485.00 521.25C488.25 520.10 491.67 518.33 495.00 516.88C498.33 515.42 501.67 513.85 505.00 512.50C508.33 511.15 511.67 509.90 515.00 508.75C518.33 507.60 521.67 506.62 525.00 505.62C528.33 504.62 531.67 503.69 535.00 502.75C538.33 501.81 541.67 500.88 545.00 500.00C548.33 499.12 551.67 498.23 555.00 497.50C558.33 496.77 561.67 496.15 565.00 495.62C568.33 495.10 571.75 494.69 575.00 494.38C578.25 494.06 582.92 493.85 584.50 493.75M475.50 526.25C477.08 525.94 481.75 525.42 485.00 524.38C488.25 523.33 491.67 521.46 495.00 520.00C498.33 518.54 501.67 516.98 505.00 515.62C508.33 514.27 511.67 513.02 515.00 511.88C518.33 510.73 521.67 509.69 525.00 508.75C528.33 507.81 531.67 507.04 535.00 506.25C538.33 505.46 541.67 504.67 545.00 504.00C548.33 503.33 551.67 502.81 555.00 502.25C558.33 501.69 561.67 501.04 565.00 500.62C568.33 500.21 571.75 499.96 575.00 499.75C578.25 499.54 582.92 499.44 584.50 499.38"/>
<path class="z" d="M475.50 550.60H584.50"/>
</g>
<g clip-path="url(#c3)">
<path class="b" d="M601.25 237.75C602.46 237.60 606.04 237.44 608.50 236.88C610.96 236.31 613.50 235.31 616.00 234.38C618.50 233.44 621.00 232.40 623.50 231.25C626.00 230.10 628.50 228.75 631.00 227.50C633.50 226.25 636.00 225.00 638.50 223.75C641.00 222.50 643.50 221.08 646.00 220.00C648.50 218.92 651.00 218.04 653.50 217.25C656.00 216.46 658.50 215.73 661.00 215.25C663.50 214.77 666.00 214.56 668.50 214.38C671.00 214.19 673.50 214.06 676.00 214.12C678.50 214.19 680.58 214.44 683.50 214.75C686.42 215.06 690.38 215.67 693.50 216.00C696.62 216.33 699.50 216.58 702.25 216.75C705.00 216.92 708.71 216.96 710.00 217.00M601.25 246.25C602.46 246.42 606.25 247.08 608.50 247.25C610.75 247.42 612.67 247.62 614.75 247.25C616.83 246.88 618.92 246.31 621.00 245.00C623.08 243.69 625.17 241.67 627.25 239.38C629.33 237.08 631.42 233.96 633.50 231.25C635.58 228.54 637.67 225.83 639.75 223.12C641.83 220.42 643.92 217.50 646.00 215.00C648.08 212.50 650.17 210.31 652.25 208.12C654.33 205.94 656.42 203.75 658.50 201.88C660.58 200.00 662.67 198.33 664.75 196.88C666.83 195.42 668.71 194.31 671.00 193.12C673.29 191.94 676.00 190.69 678.50 189.75C681.00 188.81 683.50 188.08 686.00 187.50C688.50 186.92 690.79 186.54 693.50 186.25C696.21 185.96 699.50 185.85 702.25 185.75C705.00 185.65 708.71 185.65 710.00 185.62M601.25 256.00C602.46 256.25 606.04 256.73 608.50 257.50C610.96 258.27 613.50 259.38 616.00 260.62C618.50 261.88 621.00 263.33 623.50 265.00C626.00 266.67 628.50 268.75 631.00 270.62C633.50 272.50 636.00 274.27 638.50 276.25C641.00 278.23 643.50 280.52 646.00 282.50C648.50 284.48 651.00 286.35 653.50 288.12C656.00 289.90 658.50 291.67 661.00 293.12C663.50 294.58 666.00 295.73 668.50 296.88C671.00 298.02 673.50 299.06 676.00 300.00C678.50 300.94 681.00 301.83 683.50 302.50C686.00 303.17 688.29 303.58 691.00 304.00C693.71 304.42 696.58 304.79 699.75 305.00C702.92 305.21 708.29 305.21 710.00 305.25M601.25 265.00C602.46 264.69 606.25 263.96 608.50 263.12C610.75 262.29 612.67 260.73 614.75 260.00C616.83 259.27 618.92 258.65 621.00 258.75C623.08 258.85 625.17 259.58 627.25 260.62C629.33 261.67 631.21 263.23 633.50 265.00C635.79 266.77 638.50 269.06 641.00 271.25C643.50 273.44 646.00 275.83 648.50 278.12C651.00 280.42 653.50 282.81 656.00 285.00C658.50 287.19 661.00 289.27 663.50 291.25C666.00 293.23 668.50 295.00 671.00 296.88C673.50 298.75 676.00 300.73 678.50 302.50C681.00 304.27 683.50 306.04 686.00 307.50C688.50 308.96 691.00 310.21 693.50 311.25C696.00 312.29 698.25 313.12 701.00 313.75C703.75 314.38 708.50 314.79 710.00 315.00M601.25 256.00C602.46 256.29 605.83 256.92 608.50 257.75C611.17 258.58 614.54 259.83 617.25 261.00C619.96 262.17 622.25 263.21 624.75 264.75C627.25 266.29 629.75 268.29 632.25 270.25C634.75 272.21 637.25 274.42 639.75 276.50C642.25 278.58 644.75 280.75 647.25 282.75C649.75 284.75 652.25 286.62 654.75 288.50C657.25 290.38 659.75 292.25 662.25 294.00C664.75 295.75 667.25 297.44 669.75 299.00C672.25 300.56 674.75 301.96 677.25 303.38C679.75 304.79 682.25 306.23 684.75 307.50C687.25 308.77 689.54 309.96 692.25 311.00C694.96 312.04 698.04 313.12 701.00 313.75C703.96 314.38 708.50 314.58 710.00 314.75M601.25 277.50C602.88 277.67 607.71 277.98 611.00 278.50C614.29 279.02 617.67 279.85 621.00 280.62C624.33 281.40 627.67 282.23 631.00 283.12C634.33 284.02 637.67 284.96 641.00 286.00C644.33 287.04 647.67 288.29 651.00 289.38C654.33 290.46 657.67 291.46 661.00 292.50C664.33 293.54 667.67 294.58 671.00 295.62C674.33 296.67 677.67 297.81 681.00 298.75C684.33 299.69 687.67 300.62 691.00 301.25C694.33 301.88 697.83 302.19 701.00 302.50C704.17 302.81 708.50 303.02 710.00 303.12M601.25 277.50C602.88 277.69 607.71 278.06 611.00 278.62C614.29 279.19 617.67 280.06 621.00 280.88C624.33 281.69 627.67 282.56 631.00 283.50C634.33 284.44 637.67 285.42 641.00 286.50C644.33 287.58 647.67 288.88 651.00 290.00C654.33 291.12 657.67 292.17 661.00 293.25C664.33 294.33 667.67 295.46 671.00 296.50C674.33 297.54 677.67 298.60 681.00 299.50C684.33 300.40 687.67 301.27 691.00 301.88C694.33 302.48 697.83 302.81 701.00 303.12C704.17 303.44 708.50 303.65 710.00 303.75M601.25 305.25C602.46 305.38 605.62 305.46 608.50 306.00C611.38 306.54 615.17 307.52 618.50 308.50C621.83 309.48 625.17 310.90 628.50 311.88C631.83 312.85 635.17 313.85 638.50 314.38C641.83 314.90 645.17 315.10 648.50 315.00C651.83 314.90 655.17 314.58 658.50 313.75C661.83 312.92 665.17 311.46 668.50 310.00C671.83 308.54 675.17 306.56 678.50 305.00C681.83 303.44 685.17 301.88 688.50 300.62C691.83 299.38 695.58 298.23 698.50 297.50C701.42 296.77 704.08 296.50 706.00 296.25C707.92 296.00 709.33 296.04 710.00 296.00M601.25 390.00C602.46 389.83 606.04 389.52 608.50 389.00C610.96 388.48 613.08 388.06 616.00 386.88C618.92 385.69 622.67 383.65 626.00 381.88C629.33 380.10 632.67 378.12 636.00 376.25C639.33 374.38 642.67 372.50 646.00 370.62C649.33 368.75 652.67 366.77 656.00 365.00C659.33 363.23 662.67 361.56 666.00 360.00C669.33 358.44 672.67 356.92 676.00 355.62C679.33 354.33 682.67 353.19 686.00 352.25C689.33 351.31 693.08 350.52 696.00 350.00C698.92 349.48 701.17 349.29 703.50 349.12C705.83 348.96 708.92 349.02 710.00 349.00M601.25 365.00C602.46 365.04 605.62 364.94 608.50 365.25C611.38 365.56 615.17 366.25 618.50 366.88C621.83 367.50 625.17 368.27 628.50 369.00C631.83 369.73 635.17 370.62 638.50 371.25C641.83 371.88 645.17 372.33 648.50 372.75C651.83 373.17 654.75 373.46 658.50 373.75C662.25 374.04 666.83 374.33 671.00 374.50C675.17 374.67 679.33 374.71 683.50 374.75C687.67 374.79 691.58 374.71 696.00 374.75C700.42 374.79 707.67 374.96 710.00 375.00M601.25 370.62C603.50 370.69 610.42 370.90 614.75 371.00C619.08 371.10 623.08 371.10 627.25 371.25C631.42 371.40 635.58 371.56 639.75 371.88C643.92 372.19 648.08 372.77 652.25 373.12C656.42 373.48 660.58 373.75 664.75 374.00C668.92 374.25 673.08 374.46 677.25 374.62C681.42 374.79 685.58 374.90 689.75 375.00C693.92 375.10 698.88 375.19 702.25 375.25C705.62 375.31 708.71 375.35 710.00 375.38M601.25 389.38C603.50 389.44 610.42 389.48 614.75 389.75C619.08 390.02 623.08 390.54 627.25 391.00C631.42 391.46 635.58 392.04 639.75 392.50C643.92 392.96 648.08 393.33 652.25 393.75C656.42 394.17 660.58 394.58 664.75 395.00C668.92 395.42 673.08 395.90 677.25 396.25C681.42 396.60 685.58 396.92 689.75 397.12C693.92 397.33 698.88 397.44 702.25 397.50C705.62 397.56 708.71 397.50 710.00 397.50M601.25 392.50C603.50 392.54 610.42 392.54 614.75 392.75C619.08 392.96 623.08 393.42 627.25 393.75C631.42 394.08 635.58 394.44 639.75 394.75C643.92 395.06 648.08 395.38 652.25 395.62C656.42 395.88 660.58 396.04 664.75 396.25C668.92 396.46 673.08 396.67 677.25 396.88C681.42 397.08 685.58 397.33 689.75 397.50C693.92 397.67 698.88 397.81 702.25 397.88C705.62 397.94 708.71 397.88 710.00 397.88M601.25 436.88C602.46 436.60 606.04 436.02 608.50 435.25C610.96 434.48 613.50 433.58 616.00 432.25C618.50 430.92 621.00 429.00 623.50 427.25C626.00 425.50 629.33 422.96 631.00 421.75C632.67 420.54 633.08 420.81 633.50 420.00C633.92 419.19 631.83 418.96 633.50 416.88C635.17 414.79 640.17 410.62 643.50 407.50C646.83 404.38 650.58 400.83 653.50 398.12C656.42 395.42 658.50 393.44 661.00 391.25C663.50 389.06 666.00 386.98 668.50 385.00C671.00 383.02 673.50 381.04 676.00 379.38C678.50 377.71 681.00 376.25 683.50 375.00C686.00 373.75 688.29 372.75 691.00 371.88C693.71 371.00 696.58 370.27 699.75 369.75C702.92 369.23 708.29 368.92 710.00 368.75M601.25 438.62C602.46 438.35 606.04 437.77 608.50 437.00C610.96 436.23 613.50 435.33 616.00 434.00C618.50 432.67 621.00 430.75 623.50 429.00C626.00 427.25 629.33 424.71 631.00 423.50C632.67 422.29 632.79 422.85 633.50 421.75C634.21 420.65 633.29 419.25 635.25 416.88C637.21 414.50 641.92 410.62 645.25 407.50C648.58 404.38 652.33 400.83 655.25 398.12C658.17 395.42 660.25 393.44 662.75 391.25C665.25 389.06 667.75 386.98 670.25 385.00C672.75 383.02 675.25 381.04 677.75 379.38C680.25 377.71 683.04 376.16 685.25 375.00C687.46 373.84 688.58 373.19 691.00 372.40C693.42 371.61 696.58 370.77 699.75 370.27C702.92 369.78 708.29 369.59 710.00 369.45M601.25 428.75C603.50 428.85 610.42 428.92 614.75 429.38C619.08 429.83 623.08 430.73 627.25 431.50C631.42 432.27 635.58 433.21 639.75 434.00C643.92 434.79 648.08 435.56 652.25 436.25C656.42 436.94 660.58 437.67 664.75 438.12C668.92 438.58 673.08 438.77 677.25 439.00C681.42 439.23 685.58 439.38 689.75 439.50C693.92 439.62 698.88 439.71 702.25 439.75C705.62 439.79 708.71 439.75 710.00 439.75M601.25 438.50C603.50 438.44 610.42 438.08 614.75 438.12C619.08 438.17 623.08 438.33 627.25 438.75C631.42 439.17 635.58 440.04 639.75 440.62C643.92 441.21 648.08 441.77 652.25 442.25C656.42 442.73 660.58 443.15 664.75 443.50C668.92 443.85 673.08 444.17 677.25 444.38C681.42 444.58 685.58 444.65 689.75 444.75C693.92 444.85 698.88 444.96 702.25 445.00C705.62 445.04 708.71 445.00 710.00 445.00M601.25 438.75C604.54 438.85 615.62 438.96 621.00 439.38C626.38 439.79 629.33 440.62 633.50 441.25C637.67 441.88 641.83 442.54 646.00 443.12C650.17 443.71 654.33 444.33 658.50 444.75C662.67 445.17 666.83 445.38 671.00 445.62C675.17 445.88 679.33 446.10 683.50 446.25C687.67 446.40 691.58 446.46 696.00 446.50C700.42 446.54 707.67 446.50 710.00 446.50M601.25 467.50C602.88 467.54 607.71 467.79 611.00 467.75C614.29 467.71 617.67 467.60 621.00 467.25C624.33 466.90 627.67 466.31 631.00 465.62C634.33 464.94 637.67 463.96 641.00 463.12C644.33 462.29 647.67 461.40 651.00 460.62C654.33 459.85 657.67 459.06 661.00 458.50C664.33 457.94 667.67 457.52 671.00 457.25C674.33 456.98 677.67 456.88 681.00 456.88C684.33 456.88 687.67 456.94 691.00 457.25C694.33 457.56 697.83 458.19 701.00 458.75C704.17 459.31 708.50 460.31 710.00 460.62M601.25 474.38C602.88 474.44 607.71 474.75 611.00 474.75C614.29 474.75 617.67 474.75 621.00 474.38C624.33 474.00 627.67 473.23 631.00 472.50C634.33 471.77 637.67 470.73 641.00 470.00C644.33 469.27 647.67 468.71 651.00 468.12C654.33 467.54 657.67 466.98 661.00 466.50C664.33 466.02 667.25 465.60 671.00 465.25C674.75 464.90 679.33 464.62 683.50 464.38C687.67 464.12 691.58 463.90 696.00 463.75C700.42 463.60 707.67 463.54 710.00 463.50M601.25 481.88C602.88 481.77 607.71 481.67 611.00 481.25C614.29 480.83 617.67 480.10 621.00 479.38C624.33 478.65 627.67 477.81 631.00 476.88C634.33 475.94 637.67 474.69 641.00 473.75C644.33 472.81 647.67 471.98 651.00 471.25C654.33 470.52 657.67 469.90 661.00 469.38C664.33 468.85 667.25 468.54 671.00 468.12C674.75 467.71 679.33 467.23 683.50 466.88C687.67 466.52 691.58 466.21 696.00 466.00C700.42 465.79 707.67 465.69 710.00 465.62M601.25 492.50C602.88 492.40 607.71 492.29 611.00 491.88C614.29 491.46 617.67 490.83 621.00 490.00C624.33 489.17 627.67 488.02 631.00 486.88C634.33 485.73 637.67 484.38 641.00 483.12C644.33 481.88 647.67 480.52 651.00 479.38C654.33 478.23 657.67 477.19 661.00 476.25C664.33 475.31 667.67 474.48 671.00 473.75C674.33 473.02 677.67 472.40 681.00 471.88C684.33 471.35 687.67 470.94 691.00 470.62C694.33 470.31 697.83 470.15 701.00 470.00C704.17 469.85 708.50 469.79 710.00 469.75M601.25 496.25C602.88 496.15 607.71 496.04 611.00 495.62C614.29 495.21 617.67 494.58 621.00 493.75C624.33 492.92 627.67 491.77 631.00 490.62C634.33 489.48 637.67 488.12 641.00 486.88C644.33 485.62 647.67 484.27 651.00 483.12C654.33 481.98 657.67 480.94 661.00 480.00C664.33 479.06 667.67 478.17 671.00 477.50C674.33 476.83 677.67 476.42 681.00 476.00C684.33 475.58 687.67 475.21 691.00 475.00C694.33 474.79 697.83 474.79 701.00 474.75C704.17 474.71 708.50 474.75 710.00 474.75M601.25 498.12C602.88 498.02 607.71 497.92 611.00 497.50C614.29 497.08 617.67 496.46 621.00 495.62C624.33 494.79 627.67 493.65 631.00 492.50C634.33 491.35 637.67 490.00 641.00 488.75C644.33 487.50 647.67 486.15 651.00 485.00C654.33 483.85 657.67 482.75 661.00 481.88C664.33 481.00 667.67 480.31 671.00 479.75C674.33 479.19 677.67 478.83 681.00 478.50C684.33 478.17 687.67 477.92 691.00 477.75C694.33 477.58 697.83 477.54 701.00 477.50C704.17 477.46 708.50 477.50 710.00 477.50M601.25 518.12C602.88 517.81 607.71 517.08 611.00 516.25C614.29 515.42 617.67 514.27 621.00 513.12C624.33 511.98 627.67 510.62 631.00 509.38C634.33 508.12 637.67 506.77 641.00 505.62C644.33 504.48 647.67 503.44 651.00 502.50C654.33 501.56 657.67 500.73 661.00 500.00C664.33 499.27 667.67 498.65 671.00 498.12C674.33 497.60 677.67 497.19 681.00 496.88C684.33 496.56 687.67 496.35 691.00 496.25C694.33 496.15 697.83 496.19 701.00 496.25C704.17 496.31 708.50 496.56 710.00 496.62M601.25 515.62C602.88 515.35 607.71 514.77 611.00 514.00C614.29 513.23 617.67 512.08 621.00 511.00C624.33 509.92 627.67 508.67 631.00 507.50C634.33 506.33 637.67 505.08 641.00 504.00C644.33 502.92 647.67 501.92 651.00 501.00C654.33 500.08 657.67 499.29 661.00 498.50C664.33 497.71 667.67 496.83 671.00 496.25C674.33 495.67 677.67 495.31 681.00 495.00C684.33 494.69 687.67 494.54 691.00 494.38C694.33 494.21 697.83 494.00 701.00 494.00C704.17 494.00 708.50 494.31 710.00 494.38M601.25 513.12C602.88 512.92 607.71 512.56 611.00 511.88C614.29 511.19 617.67 510.04 621.00 509.00C624.33 507.96 627.67 506.75 631.00 505.62C634.33 504.50 637.67 503.29 641.00 502.25C644.33 501.21 647.67 500.27 651.00 499.38C654.33 498.48 657.67 497.65 661.00 496.88C664.33 496.10 667.67 495.38 671.00 494.75C674.33 494.12 677.67 493.54 681.00 493.12C684.33 492.71 687.67 492.46 691.00 492.25C694.33 492.04 697.83 491.94 701.00 491.88C704.17 491.81 708.50 491.88 710.00 491.88M601.25 507.50C602.88 507.40 607.71 507.29 611.00 506.88C614.29 506.46 617.67 505.77 621.00 505.00C624.33 504.23 627.67 503.19 631.00 502.25C634.33 501.31 637.67 500.27 641.00 499.38C644.33 498.48 647.67 497.71 651.00 496.88C654.33 496.04 657.67 495.21 661.00 494.38C664.33 493.54 667.67 492.71 671.00 491.88C674.33 491.04 677.67 490.21 681.00 489.38C684.33 488.54 687.67 487.60 691.00 486.88C694.33 486.15 697.83 485.52 701.00 485.00C704.17 484.48 708.50 483.96 710.00 483.75M601.25 499.38C602.88 499.17 607.71 498.75 611.00 498.12C614.29 497.50 617.67 496.56 621.00 495.62C624.33 494.69 627.67 493.54 631.00 492.50C634.33 491.46 637.67 490.42 641.00 489.38C644.33 488.33 647.67 487.15 651.00 486.25C654.33 485.35 657.67 484.52 661.00 484.00C664.33 483.48 667.67 483.06 671.00 483.12C674.33 483.19 677.67 483.85 681.00 484.38C684.33 484.90 687.67 485.62 691.00 486.25C694.33 486.88 697.83 487.71 701.00 488.12C704.17 488.54 708.50 488.65 710.00 488.75M601.25 496.88C602.88 496.67 607.71 496.25 611.00 495.62C614.29 495.00 617.67 494.06 621.00 493.12C624.33 492.19 627.67 491.04 631.00 490.00C634.33 488.96 637.67 487.92 641.00 486.88C644.33 485.83 647.67 484.69 651.00 483.75C654.33 482.81 657.67 481.98 661.00 481.25C664.33 480.52 667.67 479.83 671.00 479.38C674.33 478.92 677.67 478.71 681.00 478.50C684.33 478.29 687.67 478.12 691.00 478.12C694.33 478.12 697.83 478.40 701.00 478.50C704.17 478.60 708.50 478.71 710.00 478.75M601.25 492.50C602.88 492.33 607.71 492.02 611.00 491.50C614.29 490.98 617.67 490.25 621.00 489.38C624.33 488.50 627.67 487.29 631.00 486.25C634.33 485.21 637.67 484.17 641.00 483.12C644.33 482.08 647.67 480.94 651.00 480.00C654.33 479.06 657.67 478.23 661.00 477.50C664.33 476.77 667.67 476.08 671.00 475.62C674.33 475.17 677.67 474.96 681.00 474.75C684.33 474.54 687.67 474.38 691.00 474.38C694.33 474.38 697.83 474.65 701.00 474.75C704.17 474.85 708.50 474.96 710.00 475.00M601.25 501.88C602.88 501.69 607.71 501.31 611.00 500.75C614.29 500.19 617.67 499.40 621.00 498.50C624.33 497.60 627.67 496.42 631.00 495.38C634.33 494.33 637.67 493.25 641.00 492.25C644.33 491.25 647.67 490.23 651.00 489.38C654.33 488.52 657.67 487.77 661.00 487.12C664.33 486.48 667.67 486.02 671.00 485.50C674.33 484.98 677.67 484.50 681.00 484.00C684.33 483.50 687.67 482.96 691.00 482.50C694.33 482.04 697.83 481.56 701.00 481.25C704.17 480.94 708.50 480.73 710.00 480.62"/>
<path class="z" d="M601.20 550.60H710.00"/>
</g>
<g clip-path="url(#c4)">
<path class="d" stroke="#1f77b4" d="M727.20 174.80L727.20 367.00L727.20 367.50L734.50 369.40L744.50 370.60L754.50 372.00L744.50 373.50L737.00 374.50L735.00 376.00L733.90 379.40L733.25 381.90L735.75 384.40L740.75 386.90L750.75 389.00L758.25 391.25L764.50 392.25L787.00 393.10L809.60 393.30L797.00 394.75L789.50 396.00L778.25 397.50L759.50 398.75L740.75 399.75L733.90 400.60L732.00 403.10L731.40 407.50L731.40 416.25L731.40 420.00L732.60 423.10L735.75 426.90L738.25 429.00L755.75 429.40L732.60 431.50L747.00 433.10L762.00 435.60L778.25 437.25L799.50 438.50L801.40 440.00L778.25 441.25L759.50 442.75L742.00 443.50L734.50 443.30L729.50 445.00L727.20 446.00L727.20 446.50L727.20 466.50L730.00 468.30L727.20 470.00L727.20 484.00L732.00 486.70L727.20 489.50L727.20 502.00L729.60 505.00L727.20 508.00L727.20 553.10"/>
<path class="d" stroke="#ff7f0e" d="M727.20 174.80L727.20 346.50L727.20 347.25L728.25 347.50L737.00 348.50L745.10 350.00L737.00 351.25L733.90 353.75L732.00 358.10L731.00 362.50L732.00 365.00L740.75 366.50L753.25 367.75L764.50 369.00L784.50 371.20L822.00 373.00L852.30 374.20L822.00 374.90L784.50 375.20L762.00 375.30L790.00 373.40L836.00 374.30L795.00 374.40L764.00 373.20L754.50 375.50L744.50 376.00L735.75 376.90L732.00 378.75L731.00 381.90L732.00 385.00L734.50 387.50L739.50 389.00L734.50 390.00L728.25 390.00L727.20 390.50L727.20 391.00L727.20 467.00L729.60 469.20L727.20 471.20L727.20 484.50L730.20 486.70L727.20 489.00L727.20 553.10"/>
<path class="d" stroke="#2ca02c" d="M727.20 174.80L728.25 179.38L731.38 182.50L734.50 183.75L732.62 185.62L737.00 186.25L748.25 186.50L737.00 187.50L734.50 190.00L731.38 193.12L730.12 197.50L729.50 202.50L729.25 207.50L728.88 212.50L728.50 214.00L759.50 214.38L803.25 215.62L772.00 216.88L740.75 217.75L733.88 219.00L733.88 221.25L735.12 223.75L733.88 226.88L733.88 230.00L734.50 233.75L737.00 235.00L742.62 235.25L742.62 237.50L734.50 238.12L729.50 238.75L730.75 241.25L731.38 243.75L734.50 245.62L741.38 245.88L734.50 246.88L729.50 248.12L730.75 251.25L730.12 253.75L732.00 256.25L731.38 257.50L738.25 258.75L741.38 260.00L738.25 261.88L744.50 263.12L740.75 265.62L735.75 267.50L733.25 270.62L732.62 273.75L735.75 275.62L742.00 276.88L748.25 278.12L748.25 279.38L742.62 280.00L740.75 283.75L739.50 287.50L738.88 290.62L740.75 293.12L743.88 295.62L767.62 296.50L767.00 297.50L739.50 300.00L759.50 300.62L828.25 301.88L762.00 303.12L745.75 304.38L764.50 305.25L745.12 306.50L748.25 309.38L747.00 311.25L753.25 311.88L775.75 314.00L753.25 315.00L728.00 316.00L727.20 317.00L727.20 475.00L730.30 477.50L727.20 480.00L727.20 485.00L729.80 487.50L727.20 490.00L727.20 553.10"/>
<path class="d" stroke="#d62728" d="M727.20 174.80L727.20 442.50L727.20 443.00L735.00 445.00L760.00 445.70L838.75 446.10L760.00 446.60L735.00 447.30L727.20 449.00L727.20 454.00L728.90 457.80L734.75 459.30L730.40 462.20L739.10 464.40L735.00 466.00L738.40 468.00L735.50 469.50L738.40 471.00L735.50 473.50L738.00 475.00L740.60 476.10L765.40 478.00L747.90 479.00L739.10 481.20L736.20 483.50L737.00 485.00L745.00 486.00L738.00 487.30L744.00 488.30L737.70 489.50L736.50 492.80L738.50 495.75L741.00 498.50L743.50 500.90L736.90 503.00L732.60 507.40L730.40 510.30L728.50 516.00L727.20 525.00L727.20 535.00L727.20 536.00L727.20 553.10"/>
<path class="d" stroke="#9467bd" d="M727.20 174.80L727.20 366.00L730.00 369.00L734.50 372.50L729.00 373.20L734.00 373.80L730.00 375.00L727.20 377.00L727.20 427.00L728.25 428.75L732.00 429.40L729.50 432.50L732.00 435.60L740.75 438.10L747.00 439.75L740.75 441.25L738.25 443.10L734.50 444.40L747.00 445.40L769.50 446.25L747.00 446.75L728.25 447.25L728.25 448.10L728.90 452.50L730.75 456.00L772.00 456.90L777.00 458.50L760.00 460.00L740.60 461.90L752.00 463.00L761.00 464.20L769.75 465.60L752.00 466.60L781.00 468.30L819.30 469.80L800.00 471.00L783.00 471.30L812.00 471.90L781.00 472.60L758.00 475.30L770.00 476.80L804.75 478.20L785.00 479.60L769.75 482.60L777.00 483.50L807.70 484.50L780.00 486.30L801.80 487.50L778.50 489.00L800.00 490.30L786.00 491.60L813.50 492.50L800.00 493.40L842.70 494.60L812.00 495.30L799.00 496.20L788.70 498.70L793.00 500.10L775.60 503.00L784.30 503.80L774.00 505.40L761.00 508.50L746.70 513.00L739.50 518.50L734.00 523.90L729.50 531.00L727.70 538.30L727.20 546.00L727.20 553.10"/>
<path class="tot" d="M727.20 174.80L728.25 179.38L731.38 182.50L734.50 183.75L732.62 185.62L737.00 186.25L748.25 186.50L737.00 187.50L734.50 190.00L731.38 193.12L730.12 197.50L729.50 202.50L729.25 207.50L728.88 212.50L728.50 214.00L759.50 214.38L803.25 215.62L772.00 216.88L740.75 217.75L733.88 219.00L733.88 221.25L735.12 223.75L733.88 226.88L733.88 230.00L734.50 233.75L737.00 235.00L742.62 235.25L742.62 237.50L734.50 238.12L729.50 238.75L730.75 241.25L731.38 243.75L734.50 245.62L741.38 245.88L734.50 246.88L729.50 248.12L730.75 251.25L730.12 253.75L732.00 256.25L731.38 257.50L738.25 258.75L741.38 260.00L738.25 261.88L744.50 263.12L740.75 265.62L735.75 267.50L733.25 270.62L732.62 273.75L735.75 275.62L742.00 276.88L748.25 278.12L748.25 279.38L742.62 280.00L740.75 283.75L739.50 287.50L738.88 290.62L740.75 293.12L743.88 295.62L767.62 296.50L767.00 297.50L739.50 300.00L759.50 300.62L828.25 301.88L762.00 303.12L745.75 304.38L764.50 305.25L745.12 306.50L748.25 309.38L747.00 311.25L753.25 311.88L775.75 314.00L753.25 315.00L728.00 316.00L727.20 317.00L727.20 347.00L728.25 347.50L737.00 348.50L746.00 350.00L737.00 351.25L733.90 353.75L732.00 358.10L731.00 362.50L732.00 365.00L740.75 366.20L753.25 367.30L764.50 368.30L784.50 369.80L803.00 371.00L822.00 372.60L852.30 374.00L864.00 374.40L864.00 376.00L822.00 376.20L777.00 376.30L754.50 376.60L744.50 376.90L739.50 380.00L738.90 382.50L742.00 385.00L753.25 387.25L763.25 388.10L765.10 389.40L759.50 390.60L764.50 392.25L787.00 392.90L815.75 393.50L797.00 394.75L799.50 396.50L778.25 397.50L759.50 398.75L740.75 399.75L733.90 400.60L732.00 403.10L731.40 407.50L731.40 416.25L731.40 420.00L732.60 423.10L735.75 426.90L738.25 429.00L766.40 429.40L733.00 431.50L747.00 433.10L762.00 435.40L790.00 436.80L832.50 439.40L800.00 441.20L775.00 442.50L745.00 443.80L735.00 444.50L760.00 445.30L864.00 446.10L760.00 446.90L729.00 447.50L729.00 452.50L731.00 455.50L772.00 456.30L785.75 458.60L765.00 460.00L744.00 461.70L760.00 462.80L780.75 463.75L752.00 465.60L785.00 467.00L834.60 469.40L800.00 470.80L813.75 472.40L775.00 474.50L762.00 475.50L800.00 476.50L848.60 477.60L800.00 478.80L788.75 480.60L800.00 482.00L822.00 484.20L805.00 485.80L828.30 487.90L800.00 489.50L818.00 491.00L795.00 492.50L857.50 495.00L800.00 497.00L811.70 499.50L805.00 501.00L790.00 503.00L801.25 506.10L775.00 508.00L762.00 509.80L748.00 514.00L740.00 519.00L734.50 525.00L730.50 532.00L728.30 540.00L727.20 548.00L727.20 553.10"/>
</g>
<rect class="sp" x="120.00" y="157.20" width="338.80" height="412.40"/>
<rect class="sp" x="475.50" y="157.20" width="109.00" height="412.40"/>
<rect class="sp" x="601.20" y="157.20" width="108.80" height="412.40"/>
<rect class="sp" x="726.70" y="157.20" width="137.50" height="412.40"/>
<g style="filter:grayscale(1)">
<text x="111.00" y="558.20" text-anchor="end" textLength="11.8" lengthAdjust="spacingAndGlyphs">0</text>
<text x="111.00" y="470.70" text-anchor="end" textLength="11.0" lengthAdjust="spacingAndGlyphs">5</text>
<text x="111.00" y="383.20" text-anchor="end" textLength="24.5" lengthAdjust="spacingAndGlyphs">10</text>
<text x="111.00" y="295.70" text-anchor="end" textLength="24.0" lengthAdjust="spacingAndGlyphs">15</text>
<text x="111.00" y="208.20" text-anchor="end" textLength="24.6" lengthAdjust="spacingAndGlyphs">20</text>
<text x="120.00" y="590.80" text-anchor="middle" textLength="11.3" lengthAdjust="spacingAndGlyphs">Γ</text>
<text x="153.70" y="590.80" text-anchor="middle" textLength="13.4" lengthAdjust="spacingAndGlyphs">X</text>
<text x="187.30" y="590.80" text-anchor="middle" textLength="16.6" lengthAdjust="spacingAndGlyphs">M</text>
<text x="235.00" y="590.80" text-anchor="middle" textLength="11.3" lengthAdjust="spacingAndGlyphs">Γ</text>
<text x="344.20" y="590.80" text-anchor="middle" textLength="13.3" lengthAdjust="spacingAndGlyphs">Z</text>
<text x="377.80" y="590.80" text-anchor="middle" textLength="13.8" lengthAdjust="spacingAndGlyphs">R</text>
<text x="411.30" y="590.80" text-anchor="middle" textLength="13.5" lengthAdjust="spacingAndGlyphs">A</text>
<text x="458.80" y="590.80" text-anchor="middle" textLength="13.3" lengthAdjust="spacingAndGlyphs">Z</text>
<text x="475.50" y="590.80" text-anchor="middle" textLength="13.4" lengthAdjust="spacingAndGlyphs">X</text>
<text x="584.50" y="590.80" text-anchor="middle" textLength="13.8" lengthAdjust="spacingAndGlyphs">R</text>
<text x="601.20" y="590.80" text-anchor="middle" textLength="16.6" lengthAdjust="spacingAndGlyphs">M</text>
<text x="710.00" y="590.80" text-anchor="middle" textLength="13.5" lengthAdjust="spacingAndGlyphs">A</text>
<text x="726.70" y="590.80" text-anchor="middle" textLength="11.8" lengthAdjust="spacingAndGlyphs">0</text>
<text x="807.50" y="590.80" text-anchor="middle" textLength="24.5" lengthAdjust="spacingAndGlyphs">10</text>
<text transform="translate(74.3 363.5) rotate(-90)" text-anchor="middle" textLength="168.4" lengthAdjust="spacingAndGlyphs">Frequency (THz)</text>
</g>
</svg></body></html>
